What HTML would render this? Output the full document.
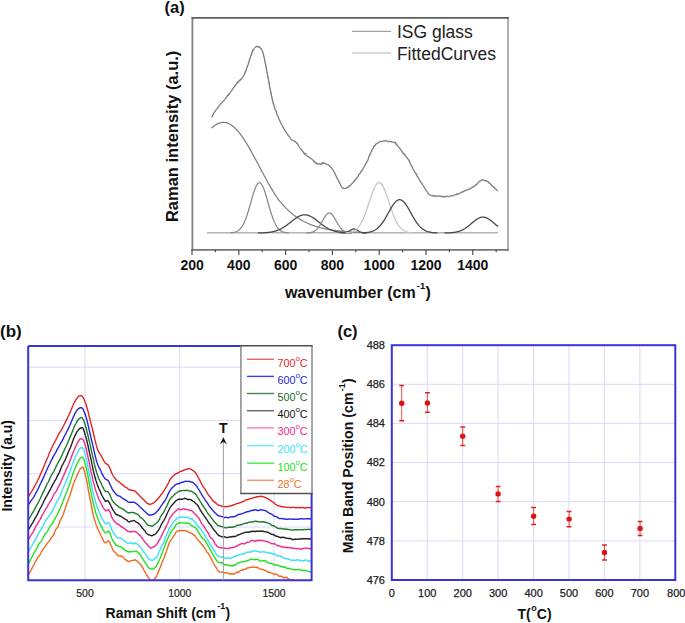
<!DOCTYPE html>
<html><head><meta charset="utf-8"><style>
html,body{margin:0;padding:0;background:#fff;}
body{width:685px;height:623px;overflow:hidden;}
svg{display:block;}
text{font-family:"Liberation Sans",sans-serif;}
</style></head><body>
<svg width="685" height="623" viewBox="0 0 685 623">
<rect width="685" height="623" fill="#fff"/>
<!-- ================= Panel (a) ================= -->
<text x="164.6" y="13.1" font-size="16.5" font-weight="bold" fill="#111">(a)</text>
<g fill="none" stroke-linecap="butt">
<path d="M207,232.8 L498.2,232.8" stroke="#b4b4b4" stroke-width="1.6"/>
<path d="M211.50,128.07 L212.00,127.62 L212.50,127.18 L213.00,126.77 L213.50,126.37 L214.00,125.99 L214.50,125.62 L215.00,125.28 L215.50,124.96 L216.00,124.65 L216.50,124.36 L217.00,124.09 L217.50,123.84 L218.00,123.62 L218.50,123.41 L219.00,123.21 L219.50,123.04 L220.00,122.89 L220.50,122.76 L221.00,122.65 L221.50,122.56 L222.00,122.49 L222.50,122.44 L223.00,122.41 L223.50,122.40 L224.00,122.41 L224.50,122.44 L225.00,122.50 L225.50,122.58 L226.00,122.67 L226.50,122.79 L227.00,122.94 L227.50,123.10 L228.00,123.29 L228.50,123.49 L229.00,123.72 L229.50,123.97 L230.00,124.24 L230.50,124.53 L231.00,124.84 L231.50,125.17 L232.00,125.53 L232.50,125.90 L233.00,126.29 L233.50,126.70 L234.00,127.13 L234.50,127.58 L235.00,128.05 L235.50,128.54 L236.00,129.05 L236.50,129.57 L237.00,130.11 L237.50,130.67 L238.00,131.25 L238.50,131.85 L239.00,132.46 L239.50,133.08 L240.00,133.72 L240.50,134.38 L241.00,135.05 L241.50,135.74 L242.00,136.44 L242.50,137.16 L243.00,137.89 L243.50,138.63 L244.00,139.39 L244.50,140.15 L245.00,140.93 L245.50,141.72 L246.00,142.53 L246.50,143.34 L247.00,144.16 L247.50,144.99 L248.00,145.84 L248.50,146.69 L249.00,147.55 L249.50,148.42 L250.00,149.29 L250.50,150.18 L251.00,151.07 L251.50,151.97 L252.00,152.87 L252.50,153.78 L253.00,154.69 L253.50,155.61 L254.00,156.53 L254.50,157.46 L255.00,158.39 L255.50,159.33 L256.00,160.26 L256.50,161.20 L257.00,162.14 L257.50,163.08 L258.00,164.03 L258.50,164.97 L259.00,165.92 L259.50,166.86 L260.00,167.81 L260.50,168.75 L261.00,169.69 L261.50,170.63 L262.00,171.57 L262.50,172.51 L263.00,173.45 L263.50,174.38 L264.00,175.31 L264.50,176.23 L265.00,177.15 L265.50,178.07 L266.00,178.98 L266.50,179.89 L267.00,180.80 L267.50,181.69 L268.00,182.59 L268.50,183.47 L269.00,184.35 L269.50,185.23 L270.00,186.10 L270.50,186.96 L271.00,187.82 L271.50,188.66 L272.00,189.50 L272.50,190.34 L273.00,191.16 L273.50,191.98 L274.00,192.79 L274.50,193.59 L275.00,194.38 L275.50,195.17 L276.00,195.95 L276.50,196.71 L277.00,197.47 L277.50,198.22 L278.00,198.96 L278.50,199.69 L279.00,200.31 L279.50,200.93 L280.00,201.53 L280.50,202.13 L281.00,202.72 L281.50,203.29 L282.00,203.87 L282.50,204.43 L283.00,204.98 L283.50,205.53 L284.00,206.07 L284.50,206.60 L285.00,207.12 L285.50,207.63 L286.00,208.14 L286.50,208.63 L287.00,209.12 L287.50,209.60 L288.00,210.08 L288.50,210.54 L289.00,211.00 L289.50,211.45 L290.00,211.90 L290.50,212.33 L291.00,212.76 L291.50,213.18 L292.00,213.60 L292.50,214.00 L293.00,214.40 L293.50,214.80 L294.00,215.18 L294.50,215.56 L295.00,215.93 L295.50,216.30 L296.00,216.65 L296.50,217.01 L297.00,217.35 L297.50,217.69 L298.00,218.02 L298.50,218.35 L299.00,218.67 L299.50,218.98 L300.00,219.29 L300.50,219.60 L301.00,219.89 L301.50,220.18 L302.00,220.47 L302.50,220.75 L303.00,221.02 L303.50,221.29 L304.00,221.55 L304.50,221.81 L305.00,222.06 L305.50,222.31 L306.00,222.56 L306.50,222.79 L307.00,223.03 L307.50,223.25 L308.00,223.48 L308.50,223.70 L309.00,223.91 L309.50,224.12 L310.00,224.33 L310.50,224.53 L311.00,224.73 L311.50,224.92 L312.00,225.11 L312.50,225.29 L313.00,225.47 L313.50,225.65 L314.00,225.82 L314.50,225.99 L315.00,226.16 L315.50,226.32 L316.00,226.48 L316.50,226.63 L317.00,226.79 L317.50,226.93 L318.00,227.08 L318.50,227.22 L319.00,227.36 L319.50,227.50 L320.00,227.63 L320.50,227.76 L321.00,227.88 L321.50,228.01 L322.00,228.13 L322.50,228.25 L323.00,228.36 L323.50,228.48 L324.00,228.59 L324.50,228.69 L325.00,228.80 L325.50,228.90 L326.00,229.00 L326.50,229.10 L327.00,229.20 L327.50,229.29 L328.00,229.38 L328.50,229.47 L329.00,229.56 L329.50,229.65 L330.00,229.73 L330.50,229.81 L331.00,229.89 L331.50,229.97 L332.00,230.04 L332.50,230.12 L333.00,230.19 L333.50,230.26 L334.00,230.33 L334.50,230.39 L335.00,230.46 L335.50,230.52 L336.00,230.59 L336.50,230.65 L337.00,230.71 L337.50,230.76 L338.00,230.82 L338.50,230.88 L339.00,230.93 L339.50,230.98 L340.00,231.03 L340.50,231.08 L341.00,231.13 L341.50,231.18 L342.00,231.23 L342.50,231.27 L343.00,231.32 L343.50,231.36 L344.00,231.40 L344.50,231.44 L345.00,231.48 L345.50,231.52 L346.00,231.56 L346.50,231.60 L347.00,231.63 L347.50,231.67 L348.00,231.70 L348.50,231.74 L349.00,231.77 L349.50,231.80 L350.00,231.83 L350.50,231.86 L351.00,231.89 L351.50,231.92 L352.00,231.95 L352.50,231.97 L353.00,232.00 L353.50,232.03 L354.00,232.05 L354.50,232.08 L355.00,232.10 L355.50,232.12 L356.00,232.15 L356.50,232.17 L357.00,232.19 L357.50,232.21 L358.00,232.23 L358.50,232.25 L359.00,232.27 L359.50,232.29 L360.00,232.31" stroke="#808080" stroke-width="1.25" fill="none"/>
<path d="M230.50,232.82 L231.00,232.78 L231.50,232.74 L232.00,232.69 L232.50,232.62 L233.00,232.55 L233.50,232.46 L234.00,232.36 L234.50,232.24 L235.00,232.10 L235.50,231.94 L236.00,231.76 L236.50,231.55 L237.00,231.31 L237.50,231.03 L238.00,230.72 L238.50,230.38 L239.00,229.98 L239.50,229.54 L240.00,229.05 L240.50,228.50 L241.00,227.90 L241.50,227.23 L242.00,226.50 L242.50,225.71 L243.00,224.84 L243.50,223.89 L244.00,222.88 L244.50,221.79 L245.00,220.62 L245.50,219.38 L246.00,218.06 L246.50,216.67 L247.00,215.21 L247.50,213.69 L248.00,212.11 L248.50,210.47 L249.00,208.79 L249.50,207.07 L250.00,205.32 L250.50,203.56 L251.00,201.78 L251.50,200.01 L252.00,198.26 L252.50,196.54 L253.00,194.87 L253.50,193.25 L254.00,191.70 L254.50,190.24 L255.00,188.87 L255.50,187.62 L256.00,186.48 L256.50,185.48 L257.00,184.62 L257.50,183.91 L258.00,183.36 L258.50,182.97 L259.00,182.75 L259.50,182.70 L260.00,182.82 L260.50,183.11 L261.00,183.56 L261.50,184.18 L262.00,184.95 L262.50,185.86 L263.00,186.92 L263.50,188.10 L264.00,189.40 L264.50,190.81 L265.00,192.31 L265.50,193.89 L266.00,195.53 L266.50,197.23 L267.00,198.96 L267.50,200.72 L268.00,202.49 L268.50,204.26 L269.00,206.02 L269.50,207.76 L270.00,209.47 L270.50,211.13 L271.00,212.75 L271.50,214.31 L272.00,215.80 L272.50,217.23 L273.00,218.59 L273.50,219.88 L274.00,221.10 L274.50,222.23 L275.00,223.29 L275.50,224.28 L276.00,225.19 L276.50,226.03 L277.00,226.80 L277.50,227.51 L278.00,228.15 L278.50,228.73 L279.00,229.25 L279.50,229.72 L280.00,230.14 L280.50,230.52 L281.00,230.85 L281.50,231.15 L282.00,231.41 L282.50,231.64 L283.00,231.83 L283.50,232.01 L284.00,232.16 L284.50,232.29 L285.00,232.40 L285.50,232.50 L286.00,232.58 L286.50,232.65 L287.00,232.71 L287.50,232.76 L288.00,232.80 L288.50,232.84" stroke="#8a8a8a" stroke-width="1.25" fill="none"/>
<path d="M258.00,232.94 L258.50,232.93 L259.00,232.92 L259.50,232.91 L260.00,232.90 L260.50,232.89 L261.00,232.87 L261.50,232.86 L262.00,232.84 L262.50,232.82 L263.00,232.80 L263.50,232.78 L264.00,232.75 L264.50,232.73 L265.00,232.70 L265.50,232.67 L266.00,232.63 L266.50,232.59 L267.00,232.55 L267.50,232.50 L268.00,232.45 L268.50,232.40 L269.00,232.34 L269.50,232.28 L270.00,232.21 L270.50,232.13 L271.00,232.05 L271.50,231.97 L272.00,231.88 L272.50,231.78 L273.00,231.67 L273.50,231.56 L274.00,231.44 L274.50,231.31 L275.00,231.17 L275.50,231.03 L276.00,230.87 L276.50,230.71 L277.00,230.54 L277.50,230.35 L278.00,230.16 L278.50,229.96 L279.00,229.75 L279.50,229.53 L280.00,229.29 L280.50,229.05 L281.00,228.80 L281.50,228.53 L282.00,228.26 L282.50,227.97 L283.00,227.68 L283.50,227.37 L284.00,227.06 L284.50,226.73 L285.00,226.40 L285.50,226.06 L286.00,225.71 L286.50,225.35 L287.00,224.98 L287.50,224.61 L288.00,224.23 L288.50,223.85 L289.00,223.46 L289.50,223.07 L290.00,222.67 L290.50,222.28 L291.00,221.88 L291.50,221.48 L292.00,221.09 L292.50,220.70 L293.00,220.31 L293.50,219.92 L294.00,219.54 L294.50,219.17 L295.00,218.81 L295.50,218.45 L296.00,218.11 L296.50,217.77 L297.00,217.45 L297.50,217.14 L298.00,216.85 L298.50,216.58 L299.00,216.32 L299.50,216.08 L300.00,215.85 L300.50,215.65 L301.00,215.47 L301.50,215.31 L302.00,215.17 L302.50,215.05 L303.00,214.95 L303.50,214.88 L304.00,214.83 L304.50,214.80 L305.00,214.80 L305.50,214.82 L306.00,214.87 L306.50,214.94 L307.00,215.03 L307.50,215.14 L308.00,215.28 L308.50,215.43 L309.00,215.61 L309.50,215.81 L310.00,216.03 L310.50,216.27 L311.00,216.52 L311.50,216.80 L312.00,217.08 L312.50,217.39 L313.00,217.71 L313.50,218.04 L314.00,218.38 L314.50,218.73 L315.00,219.10 L315.50,219.47 L316.00,219.85 L316.50,220.23 L317.00,220.62 L317.50,221.01 L318.00,221.41 L318.50,221.80 L319.00,222.20 L319.50,222.60 L320.00,222.99 L320.50,223.38 L321.00,223.77 L321.50,224.16 L322.00,224.54 L322.50,224.91 L323.00,225.28 L323.50,225.64 L324.00,225.99 L324.50,226.33 L325.00,226.67 L325.50,227.00 L326.00,227.31 L326.50,227.62 L327.00,227.92 L327.50,228.20 L328.00,228.48 L328.50,228.75 L329.00,229.00 L329.50,229.25 L330.00,229.48 L330.50,229.71 L331.00,229.92 L331.50,230.12 L332.00,230.32 L332.50,230.50 L333.00,230.68 L333.50,230.84 L334.00,231.00 L334.50,231.14 L335.00,231.28 L335.50,231.41 L336.00,231.53 L336.50,231.65 L337.00,231.76 L337.50,231.86 L338.00,231.95 L338.50,232.04 L339.00,232.12 L339.50,232.19 L340.00,232.26 L340.50,232.33 L341.00,232.39 L341.50,232.44 L342.00,232.49 L342.50,232.54 L343.00,232.58 L343.50,232.62 L344.00,232.66 L344.50,232.69 L345.00,232.72 L345.50,232.75 L346.00,232.77 L346.50,232.80 L347.00,232.82 L347.50,232.84 L348.00,232.85 L348.50,232.87 L349.00,232.88 L349.50,232.90 L350.00,232.91 L350.50,232.92 L351.00,232.93 L351.50,232.94 L352.00,232.94" stroke="#484848" stroke-width="1.3" fill="none"/>
<path d="M306.50,232.93 L307.00,232.91 L307.50,232.88 L308.00,232.85 L308.50,232.81 L309.00,232.77 L309.50,232.71 L310.00,232.64 L310.50,232.56 L311.00,232.46 L311.50,232.35 L312.00,232.21 L312.50,232.05 L313.00,231.87 L313.50,231.66 L314.00,231.41 L314.50,231.13 L315.00,230.81 L315.50,230.45 L316.00,230.05 L316.50,229.60 L317.00,229.10 L317.50,228.56 L318.00,227.97 L318.50,227.33 L319.00,226.65 L319.50,225.92 L320.00,225.15 L320.50,224.34 L321.00,223.50 L321.50,222.64 L322.00,221.76 L322.50,220.87 L323.00,219.98 L323.50,219.10 L324.00,218.24 L324.50,217.41 L325.00,216.62 L325.50,215.89 L326.00,215.22 L326.50,214.63 L327.00,214.11 L327.50,213.69 L328.00,213.36 L328.50,213.14 L329.00,213.02 L329.50,213.01 L330.00,213.11 L330.50,213.31 L331.00,213.62 L331.50,214.02 L332.00,214.52 L332.50,215.10 L333.00,215.75 L333.50,216.47 L334.00,217.25 L334.50,218.07 L335.00,218.92 L335.50,219.80 L336.00,220.69 L336.50,221.58 L337.00,222.47 L337.50,223.33 L338.00,224.18 L338.50,224.99 L339.00,225.77 L339.50,226.51 L340.00,227.20 L340.50,227.85 L341.00,228.45 L341.50,229.00 L342.00,229.50 L342.50,229.96 L343.00,230.37 L343.50,230.74 L344.00,231.07 L344.50,231.36 L345.00,231.61 L345.50,231.83 L346.00,232.02 L346.50,232.18 L347.00,232.32 L347.50,232.44 L348.00,232.54 L348.50,232.63 L349.00,232.70 L349.50,232.76 L350.00,232.81 L350.50,232.84 L351.00,232.88 L351.50,232.90 L352.00,232.92" stroke="#8a8a8a" stroke-width="1.25" fill="none"/>
<path d="M340.50,232.99 L341.00,232.98 L341.50,232.97 L342.00,232.95 L342.50,232.93 L343.00,232.90 L343.50,232.86 L344.00,232.81 L344.50,232.75 L345.00,232.66 L345.50,232.56 L346.00,232.43 L346.50,232.28 L347.00,232.10 L347.50,231.89 L348.00,231.65 L348.50,231.39 L349.00,231.11 L349.50,230.82 L350.00,230.51 L350.50,230.21 L351.00,229.92 L351.50,229.66 L352.00,229.43 L352.50,229.24 L353.00,229.10 L353.50,229.02 L354.00,229.00 L354.50,229.04 L355.00,229.15 L355.50,229.31 L356.00,229.51 L356.50,229.76 L357.00,230.04 L357.50,230.33 L358.00,230.63 L358.50,230.94 L359.00,231.23 L359.50,231.50 L360.00,231.75 L360.50,231.97 L361.00,232.17 L361.50,232.34 L362.00,232.49 L362.50,232.60 L363.00,232.70 L363.50,232.78 L364.00,232.83 L364.50,232.88 L365.00,232.91 L365.50,232.94 L366.00,232.96 L366.50,232.97 L367.00,232.98" stroke="#484848" stroke-width="1.3" fill="none"/>
<path d="M345.50,232.82 L346.00,232.79 L346.50,232.75 L347.00,232.71 L347.50,232.66 L348.00,232.60 L348.50,232.53 L349.00,232.46 L349.50,232.37 L350.00,232.27 L350.50,232.16 L351.00,232.03 L351.50,231.88 L352.00,231.72 L352.50,231.53 L353.00,231.33 L353.50,231.10 L354.00,230.84 L354.50,230.55 L355.00,230.24 L355.50,229.89 L356.00,229.50 L356.50,229.08 L357.00,228.62 L357.50,228.11 L358.00,227.56 L358.50,226.96 L359.00,226.31 L359.50,225.62 L360.00,224.87 L360.50,224.06 L361.00,223.20 L361.50,222.29 L362.00,221.32 L362.50,220.29 L363.00,219.21 L363.50,218.07 L364.00,216.88 L364.50,215.64 L365.00,214.35 L365.50,213.01 L366.00,211.63 L366.50,210.21 L367.00,208.76 L367.50,207.28 L368.00,205.78 L368.50,204.26 L369.00,202.74 L369.50,201.21 L370.00,199.69 L370.50,198.18 L371.00,196.70 L371.50,195.24 L372.00,193.83 L372.50,192.46 L373.00,191.16 L373.50,189.91 L374.00,188.75 L374.50,187.66 L375.00,186.66 L375.50,185.76 L376.00,184.96 L376.50,184.28 L377.00,183.70 L377.50,183.24 L378.00,182.90 L378.50,182.69 L379.00,182.60 L379.50,182.64 L380.00,182.80 L380.50,183.09 L381.00,183.50 L381.50,184.03 L382.00,184.68 L382.50,185.43 L383.00,186.29 L383.50,187.25 L384.00,188.30 L384.50,189.44 L385.00,190.65 L385.50,191.93 L386.00,193.28 L386.50,194.67 L387.00,196.11 L387.50,197.58 L388.00,199.08 L388.50,200.60 L389.00,202.13 L389.50,203.65 L390.00,205.17 L390.50,206.68 L391.00,208.17 L391.50,209.64 L392.00,211.07 L392.50,212.46 L393.00,213.82 L393.50,215.13 L394.00,216.39 L394.50,217.60 L395.00,218.76 L395.50,219.87 L396.00,220.92 L396.50,221.91 L397.00,222.85 L397.50,223.73 L398.00,224.55 L398.50,225.32 L399.00,226.04 L399.50,226.71 L400.00,227.33 L400.50,227.90 L401.00,228.42 L401.50,228.90 L402.00,229.34 L402.50,229.74 L403.00,230.10 L403.50,230.43 L404.00,230.73 L404.50,231.00 L405.00,231.24 L405.50,231.45 L406.00,231.65 L406.50,231.82 L407.00,231.97 L407.50,232.11 L408.00,232.23 L408.50,232.33 L409.00,232.42 L409.50,232.50 L410.00,232.57 L410.50,232.64 L411.00,232.69 L411.50,232.74 L412.00,232.78 L412.50,232.81 L413.00,232.84" stroke="#c4c4c4" stroke-width="1.25" fill="none"/>
<path d="M362.00,232.88 L362.50,232.86 L363.00,232.84 L363.50,232.82 L364.00,232.79 L364.50,232.75 L365.00,232.72 L365.50,232.68 L366.00,232.63 L366.50,232.58 L367.00,232.52 L367.50,232.45 L368.00,232.38 L368.50,232.30 L369.00,232.20 L369.50,232.10 L370.00,231.99 L370.50,231.86 L371.00,231.72 L371.50,231.57 L372.00,231.40 L372.50,231.22 L373.00,231.02 L373.50,230.80 L374.00,230.56 L374.50,230.30 L375.00,230.02 L375.50,229.71 L376.00,229.38 L376.50,229.03 L377.00,228.65 L377.50,228.25 L378.00,227.81 L378.50,227.35 L379.00,226.86 L379.50,226.35 L380.00,225.80 L380.50,225.22 L381.00,224.61 L381.50,223.98 L382.00,223.31 L382.50,222.62 L383.00,221.90 L383.50,221.15 L384.00,220.38 L384.50,219.58 L385.00,218.76 L385.50,217.92 L386.00,217.07 L386.50,216.20 L387.00,215.31 L387.50,214.42 L388.00,213.52 L388.50,212.62 L389.00,211.72 L389.50,210.83 L390.00,209.94 L390.50,209.06 L391.00,208.20 L391.50,207.36 L392.00,206.55 L392.50,205.76 L393.00,205.01 L393.50,204.29 L394.00,203.61 L394.50,202.98 L395.00,202.39 L395.50,201.86 L396.00,201.38 L396.50,200.95 L397.00,200.59 L397.50,200.28 L398.00,200.04 L398.50,199.86 L399.00,199.75 L399.50,199.70 L400.00,199.72 L400.50,199.81 L401.00,199.96 L401.50,200.18 L402.00,200.46 L402.50,200.80 L403.00,201.20 L403.50,201.66 L404.00,202.17 L404.50,202.74 L405.00,203.35 L405.50,204.01 L406.00,204.72 L406.50,205.46 L407.00,206.23 L407.50,207.03 L408.00,207.86 L408.50,208.72 L409.00,209.59 L409.50,210.47 L410.00,211.36 L410.50,212.26 L411.00,213.16 L411.50,214.06 L412.00,214.96 L412.50,215.85 L413.00,216.72 L413.50,217.58 L414.00,218.43 L414.50,219.26 L415.00,220.06 L415.50,220.84 L416.00,221.60 L416.50,222.33 L417.00,223.04 L417.50,223.71 L418.00,224.36 L418.50,224.98 L419.00,225.57 L419.50,226.13 L420.00,226.66 L420.50,227.16 L421.00,227.63 L421.50,228.08 L422.00,228.49 L422.50,228.88 L423.00,229.25 L423.50,229.58 L424.00,229.90 L424.50,230.19 L425.00,230.46 L425.50,230.70 L426.00,230.93 L426.50,231.14 L427.00,231.33 L427.50,231.50 L428.00,231.66 L428.50,231.81 L429.00,231.94 L429.50,232.06 L430.00,232.16 L430.50,232.26 L431.00,232.35 L431.50,232.42 L432.00,232.49 L432.50,232.55 L433.00,232.61 L433.50,232.66 L434.00,232.70 L434.50,232.74 L435.00,232.77 L435.50,232.80 L436.00,232.83 L436.50,232.85 L437.00,232.87 L437.50,232.89" stroke="#484848" stroke-width="1.3" fill="none"/>
<path d="M444.50,232.95 L445.00,232.94 L445.50,232.93 L446.00,232.92 L446.50,232.91 L447.00,232.90 L447.50,232.88 L448.00,232.87 L448.50,232.85 L449.00,232.82 L449.50,232.80 L450.00,232.77 L450.50,232.74 L451.00,232.70 L451.50,232.67 L452.00,232.62 L452.50,232.57 L453.00,232.52 L453.50,232.46 L454.00,232.40 L454.50,232.32 L455.00,232.25 L455.50,232.16 L456.00,232.06 L456.50,231.96 L457.00,231.85 L457.50,231.73 L458.00,231.60 L458.50,231.45 L459.00,231.30 L459.50,231.14 L460.00,230.96 L460.50,230.77 L461.00,230.57 L461.50,230.35 L462.00,230.13 L462.50,229.88 L463.00,229.63 L463.50,229.36 L464.00,229.07 L464.50,228.78 L465.00,228.47 L465.50,228.14 L466.00,227.80 L466.50,227.45 L467.00,227.09 L467.50,226.72 L468.00,226.33 L468.50,225.94 L469.00,225.54 L469.50,225.13 L470.00,224.71 L470.50,224.29 L471.00,223.87 L471.50,223.44 L472.00,223.01 L472.50,222.59 L473.00,222.17 L473.50,221.75 L474.00,221.34 L474.50,220.94 L475.00,220.55 L475.50,220.17 L476.00,219.80 L476.50,219.46 L477.00,219.13 L477.50,218.82 L478.00,218.53 L478.50,218.26 L479.00,218.02 L479.50,217.80 L480.00,217.62 L480.50,217.45 L481.00,217.32 L481.50,217.22 L482.00,217.15 L482.50,217.11 L483.00,217.10 L483.50,217.12 L484.00,217.18 L484.50,217.26 L485.00,217.37 L485.50,217.52 L486.00,217.69 L486.50,217.89 L487.00,218.11 L487.50,218.36 L488.00,218.64 L488.50,218.94 L489.00,219.26 L489.50,219.59 L490.00,219.95 L490.50,220.32 L491.00,220.70 L491.50,221.10 L492.00,221.50 L492.50,221.92 L493.00,222.34 L493.50,222.76 L494.00,223.19 L494.50,223.61 L495.00,224.04 L495.50,224.46 L496.00,224.88 L496.50,225.29 L497.00,225.70 L497.50,226.10 L498.00,226.49" stroke="#484848" stroke-width="1.3" fill="none"/>
<path d="M211.70,117.40 L212.20,116.37 L212.70,115.29 L213.20,114.24 L213.70,113.24 L214.20,112.36 L214.70,111.60 L215.20,110.90 L215.70,110.24 L216.20,109.61 L216.70,109.01 L217.20,108.42 L217.70,107.84 L218.20,107.24 L218.70,106.63 L219.20,106.03 L219.70,105.43 L220.20,104.84 L220.70,104.25 L221.20,103.66 L221.70,103.07 L222.20,102.48 L222.70,101.89 L223.20,101.30 L223.70,100.70 L224.20,100.10 L224.70,99.51 L225.20,98.92 L225.70,98.33 L226.20,97.74 L226.70,97.14 L227.20,96.54 L227.70,95.92 L228.20,95.30 L228.70,94.66 L229.20,94.00 L229.70,93.32 L230.20,92.63 L230.70,91.92 L231.20,91.20 L231.70,90.48 L232.20,89.75 L232.70,89.04 L233.20,88.33 L233.70,87.64 L234.20,86.97 L234.70,86.31 L235.20,85.66 L235.70,85.02 L236.20,84.40 L236.70,83.78 L237.20,83.18 L237.70,82.59 L238.20,82.01 L238.70,81.47 L239.20,80.97 L239.70,80.50 L240.20,80.05 L240.70,79.58 L241.20,79.09 L241.70,78.56 L242.20,77.96 L242.70,77.28 L243.20,76.50 L243.70,75.63 L244.20,74.66 L244.70,73.59 L245.20,72.42 L245.70,71.15 L246.20,69.79 L246.70,68.37 L247.20,66.92 L247.70,65.46 L248.20,64.00 L248.70,62.51 L249.20,60.94 L249.70,59.36 L250.20,57.80 L250.70,56.30 L251.20,54.91 L251.70,53.66 L252.20,52.46 L252.70,51.34 L253.20,50.30 L253.70,49.36 L254.20,48.55 L254.70,47.88 L255.20,47.35 L255.70,46.94 L256.20,46.65 L256.70,46.47 L257.20,46.38 L257.70,46.39 L258.20,46.48 L258.70,46.66 L259.20,46.94 L259.70,47.32 L260.20,47.80 L260.70,48.39 L261.20,49.10 L261.70,49.95 L262.20,50.98 L262.70,52.23 L263.20,53.72 L263.70,55.52 L264.20,57.66 L264.70,60.03 L265.20,62.55 L265.70,65.10 L266.20,67.65 L266.70,70.32 L267.20,73.05 L267.70,75.79 L268.20,78.50 L268.70,81.20 L269.20,83.92 L269.70,86.62 L270.20,89.26 L270.70,91.80 L271.20,94.32 L271.70,96.80 L272.20,99.16 L272.70,101.33 L273.20,103.23 L273.70,104.94 L274.20,106.52 L274.70,107.99 L275.20,109.39 L275.70,110.75 L276.20,112.10 L276.70,113.43 L277.20,114.71 L277.70,115.95 L278.20,117.15 L278.70,118.31 L279.20,119.44 L279.70,120.54 L280.20,121.62 L280.70,122.68 L281.20,123.72 L281.70,124.73 L282.20,125.71 L282.70,126.66 L283.20,127.57 L283.70,128.44 L284.20,129.28 L284.70,130.09 L285.20,130.88 L285.70,131.64 L286.20,132.39 L286.70,133.12 L287.20,133.84 L287.70,134.55 L288.20,135.26 L288.70,135.97 L289.20,136.68 L289.70,137.38 L290.20,138.05 L290.70,138.66 L291.20,139.21 L291.70,139.69 L292.20,140.08 L292.70,140.40 L293.20,140.68 L293.70,140.93 L294.20,141.17 L294.70,141.43 L295.20,141.71 L295.70,142.03 L296.20,142.43 L296.70,142.90 L297.20,143.53 L297.70,144.27 L298.20,145.10 L298.70,145.97 L299.20,146.82 L299.70,147.61 L300.20,148.30 L300.70,148.92 L301.20,149.52 L301.70,150.12 L302.20,150.71 L302.70,151.29 L303.20,151.86 L303.70,152.42 L304.20,152.97 L304.70,153.50 L305.20,154.03 L305.70,154.54 L306.20,155.05 L306.70,155.54 L307.20,156.01 L307.70,156.47 L308.20,156.86 L308.70,157.20 L309.20,157.50 L309.70,157.78 L310.20,158.06 L310.70,158.35 L311.20,158.66 L311.70,159.02 L312.20,159.44 L312.70,159.91 L313.20,160.42 L313.70,160.94 L314.20,161.47 L314.70,161.97 L315.20,162.43 L315.70,162.83 L316.20,163.16 L316.70,163.42 L317.20,163.64 L317.70,163.82 L318.20,163.96 L318.70,164.07 L319.20,164.14 L319.70,164.19 L320.20,164.20 L320.70,164.16 L321.20,163.94 L321.70,163.64 L322.20,163.32 L322.70,163.07 L323.20,162.99 L323.70,163.07 L324.20,163.18 L324.70,163.32 L325.20,163.48 L325.70,163.66 L326.20,163.87 L326.70,164.11 L327.20,164.37 L327.70,164.65 L328.20,164.97 L328.70,165.31 L329.20,165.68 L329.70,166.09 L330.20,166.54 L330.70,167.05 L331.20,167.60 L331.70,168.20 L332.20,168.85 L332.70,169.54 L333.20,170.29 L333.70,171.09 L334.20,171.98 L334.70,172.94 L335.20,173.96 L335.70,175.01 L336.20,176.07 L336.70,177.12 L337.20,178.14 L337.70,179.11 L338.20,180.06 L338.70,181.06 L339.20,182.08 L339.70,183.11 L340.20,184.12 L340.70,185.07 L341.20,185.96 L341.70,186.74 L342.20,187.40 L342.70,187.92 L343.20,188.27 L343.70,188.49 L344.20,188.58 L344.70,188.58 L345.20,188.49 L345.70,188.34 L346.20,188.13 L346.70,187.90 L347.20,187.65 L347.70,187.40 L348.20,187.15 L348.70,186.84 L349.20,186.48 L349.70,186.07 L350.20,185.62 L350.70,185.15 L351.20,184.64 L351.70,184.12 L352.20,183.60 L352.70,183.05 L353.20,182.45 L353.70,181.82 L354.20,181.16 L354.70,180.49 L355.20,179.81 L355.70,179.13 L356.20,178.47 L356.70,177.81 L357.20,177.16 L357.70,176.51 L358.20,175.86 L358.70,175.20 L359.20,174.53 L359.70,173.85 L360.20,173.15 L360.70,172.43 L361.20,171.68 L361.70,170.90 L362.20,170.09 L362.70,169.27 L363.20,168.42 L363.70,167.56 L364.20,166.68 L364.70,165.77 L365.20,164.85 L365.70,163.92 L366.20,162.96 L366.70,161.99 L367.20,161.00 L367.70,159.99 L368.20,158.86 L368.70,157.65 L369.20,156.39 L369.70,155.13 L370.20,153.92 L370.70,152.81 L371.20,151.82 L371.70,150.86 L372.20,149.92 L372.70,149.01 L373.20,148.13 L373.70,147.30 L374.20,146.52 L374.70,145.81 L375.20,145.16 L375.70,144.60 L376.20,144.11 L376.70,143.67 L377.20,143.28 L377.70,142.93 L378.20,142.62 L378.70,142.35 L379.20,142.11 L379.70,141.90 L380.20,141.71 L380.70,141.54 L381.20,141.39 L381.70,141.25 L382.20,141.14 L382.70,141.06 L383.20,141.02 L383.70,141.00 L384.20,141.00 L384.70,141.02 L385.20,141.06 L385.70,141.11 L386.20,141.16 L386.70,141.22 L387.20,141.28 L387.70,141.33 L388.20,141.38 L388.70,141.43 L389.20,141.47 L389.70,141.52 L390.20,141.57 L390.70,141.63 L391.20,141.69 L391.70,141.77 L392.20,141.87 L392.70,141.98 L393.20,142.11 L393.70,142.27 L394.20,142.45 L394.70,142.66 L395.20,142.91 L395.70,143.34 L396.20,143.91 L396.70,144.57 L397.20,145.28 L397.70,145.98 L398.20,146.62 L398.70,147.23 L399.20,147.84 L399.70,148.45 L400.20,149.06 L400.70,149.68 L401.20,150.30 L401.70,150.93 L402.20,151.57 L402.70,152.22 L403.20,152.90 L403.70,153.58 L404.20,154.27 L404.70,154.96 L405.20,155.63 L405.70,156.28 L406.20,156.89 L406.70,157.47 L407.20,158.06 L407.70,158.68 L408.20,159.38 L408.70,160.17 L409.20,161.09 L409.70,162.10 L410.20,163.18 L410.70,164.26 L411.20,165.32 L411.70,166.30 L412.20,167.22 L412.70,168.11 L413.20,168.98 L413.70,169.84 L414.20,170.70 L414.70,171.54 L415.20,172.40 L415.70,173.25 L416.20,174.12 L416.70,175.00 L417.20,175.89 L417.70,176.77 L418.20,177.65 L418.70,178.53 L419.20,179.39 L419.70,180.24 L420.20,181.06 L420.70,181.87 L421.20,182.65 L421.70,183.43 L422.20,184.19 L422.70,184.94 L423.20,185.69 L423.70,186.44 L424.20,187.20 L424.70,187.98 L425.20,188.78 L425.70,189.59 L426.20,190.39 L426.70,191.18 L427.20,191.93 L427.70,192.63 L428.20,193.27 L428.70,193.82 L429.20,194.28 L429.70,194.66 L430.20,194.96 L430.70,195.21 L431.20,195.40 L431.70,195.56 L432.20,195.68 L432.70,195.78 L433.20,195.85 L433.70,195.91 L434.20,195.95 L434.70,195.98 L435.20,196.00 L435.70,196.02 L436.20,196.05 L436.70,196.09 L437.20,196.13 L437.70,196.17 L438.20,196.20 L438.70,196.23 L439.20,196.26 L439.70,196.28 L440.20,196.31 L440.70,196.35 L441.20,196.38 L441.70,196.43 L442.20,196.47 L442.70,196.51 L443.20,196.54 L443.70,196.57 L444.20,196.60 L444.70,196.61 L445.20,196.61 L445.70,196.60 L446.20,196.58 L446.70,196.55 L447.20,196.52 L447.70,196.48 L448.20,196.44 L448.70,196.39 L449.20,196.34 L449.70,196.27 L450.20,196.20 L450.70,196.12 L451.20,196.03 L451.70,195.93 L452.20,195.82 L452.70,195.70 L453.20,195.57 L453.70,195.43 L454.20,195.27 L454.70,195.11 L455.20,194.94 L455.70,194.76 L456.20,194.58 L456.70,194.39 L457.20,194.20 L457.70,194.01 L458.20,193.81 L458.70,193.62 L459.20,193.42 L459.70,193.22 L460.20,193.01 L460.70,192.80 L461.20,192.58 L461.70,192.35 L462.20,192.13 L462.70,191.90 L463.20,191.67 L463.70,191.45 L464.20,191.22 L464.70,190.99 L465.20,190.77 L465.70,190.56 L466.20,190.35 L466.70,190.15 L467.20,189.96 L467.70,189.77 L468.20,189.58 L468.70,189.38 L469.20,189.18 L469.70,188.97 L470.20,188.75 L470.70,188.51 L471.20,188.25 L471.70,187.98 L472.20,187.69 L472.70,187.38 L473.20,187.06 L473.70,186.73 L474.20,186.37 L474.70,186.01 L475.20,185.63 L475.70,185.23 L476.20,184.81 L476.70,184.34 L477.20,183.80 L477.70,183.23 L478.20,182.66 L478.70,182.10 L479.20,181.60 L479.70,181.17 L480.20,180.84 L480.70,180.59 L481.20,180.41 L481.70,180.29 L482.20,180.22 L482.70,180.20 L483.20,180.22 L483.70,180.27 L484.20,180.36 L484.70,180.47 L485.20,180.62 L485.70,180.79 L486.20,180.98 L486.70,181.19 L487.20,181.45 L487.70,181.76 L488.20,182.11 L488.70,182.50 L489.20,182.91 L489.70,183.36 L490.20,183.84 L490.70,184.34 L491.20,184.86 L491.70,185.39 L492.20,185.91 L492.70,186.41 L493.20,186.89 L493.70,187.36 L494.20,187.82 L494.70,188.27 L495.20,188.71 L495.70,189.15 L496.20,189.59 L496.70,190.04 L497.20,190.48 L497.70,190.92" stroke="#b4b4b4" stroke-width="1.4"/>
<path d="M211.70,117.44 L212.20,116.93 L212.70,114.87 L213.20,114.68 L213.70,113.12 L214.20,112.24 L214.70,112.45 L215.20,110.97 L215.70,110.22 L216.20,109.94 L216.70,109.52 L217.20,108.41 L217.70,108.10 L218.20,106.80 L218.70,106.47 L219.20,105.83 L219.70,104.83 L220.20,104.16 L220.70,103.51 L221.20,103.55 L221.70,102.99 L222.20,102.34 L222.70,101.92 L223.20,100.70 L223.70,100.66 L224.20,100.21 L224.70,99.85 L225.20,98.54 L225.70,98.15 L226.20,96.83 L226.70,96.92 L227.20,95.55 L227.70,95.29 L228.20,95.80 L228.70,93.67 L229.20,94.36 L229.70,93.47 L230.20,92.49 L230.70,92.12 L231.20,91.44 L231.70,90.95 L232.20,89.65 L232.70,88.77 L233.20,88.06 L233.70,87.20 L234.20,86.95 L234.70,85.96 L235.20,86.14 L235.70,84.18 L236.20,83.90 L236.70,83.35 L237.20,82.24 L237.70,83.45 L238.20,80.93 L238.70,81.34 L239.20,80.73 L239.70,81.25 L240.20,79.15 L240.70,80.06 L241.20,78.76 L241.70,78.49 L242.20,77.66 L242.70,77.57 L243.20,75.99 L243.70,75.60 L244.20,74.82 L244.70,74.42 L245.20,71.34 L245.70,71.83 L246.20,70.22 L246.70,68.16 L247.20,67.06 L247.70,65.25 L248.20,64.74 L248.70,62.60 L249.20,60.85 L249.70,59.26 L250.20,57.71 L250.70,56.22 L251.20,54.52 L251.70,54.58 L252.20,51.60 L252.70,49.71 L253.20,50.24 L253.70,49.29 L254.20,48.72 L254.70,47.79 L255.20,47.28 L255.70,47.09 L256.20,47.09 L256.70,46.27 L257.20,46.22 L257.70,47.26 L258.20,46.72 L258.70,46.22 L259.20,47.99 L259.70,47.67 L260.20,47.54 L260.70,47.86 L261.20,49.23 L261.70,49.57 L262.20,50.50 L262.70,51.64 L263.20,53.50 L263.70,56.02 L264.20,57.46 L264.70,59.38 L265.20,62.85 L265.70,65.13 L266.20,68.03 L266.70,70.86 L267.20,72.97 L267.70,75.72 L268.20,78.48 L268.70,80.69 L269.20,84.22 L269.70,87.24 L270.20,89.34 L270.70,91.69 L271.20,94.20 L271.70,96.45 L272.20,98.80 L272.70,101.15 L273.20,102.85 L273.70,104.74 L274.20,105.81 L274.70,108.15 L275.20,109.41 L275.70,110.23 L276.20,111.07 L276.70,113.43 L277.20,115.21 L277.70,115.62 L278.20,116.93 L278.70,118.05 L279.20,119.73 L279.70,120.12 L280.20,122.06 L280.70,122.54 L281.20,124.13 L281.70,124.74 L282.20,125.61 L282.70,125.99 L283.20,127.26 L283.70,128.33 L284.20,129.58 L284.70,130.20 L285.20,130.57 L285.70,131.83 L286.20,132.83 L286.70,133.05 L287.20,133.64 L287.70,134.37 L288.20,135.62 L288.70,136.21 L289.20,136.27 L289.70,137.55 L290.20,137.83 L290.70,138.32 L291.20,139.77 L291.70,140.06 L292.20,139.75 L292.70,140.44 L293.20,140.91 L293.70,140.64 L294.20,141.12 L294.70,141.73 L295.20,140.90 L295.70,142.18 L296.20,142.76 L296.70,143.13 L297.20,142.92 L297.70,144.42 L298.20,144.71 L298.70,146.22 L299.20,147.09 L299.70,147.71 L300.20,147.96 L300.70,148.65 L301.20,149.91 L301.70,149.72 L302.20,150.93 L302.70,151.52 L303.20,151.73 L303.70,153.50 L304.20,153.00 L304.70,154.47 L305.20,153.12 L305.70,153.53 L306.20,155.49 L306.70,155.82 L307.20,155.87 L307.70,156.44 L308.20,156.00 L308.70,156.91 L309.20,157.03 L309.70,157.68 L310.20,158.46 L310.70,158.37 L311.20,158.83 L311.70,158.71 L312.20,159.24 L312.70,159.96 L313.20,160.29 L313.70,161.51 L314.20,161.07 L314.70,162.82 L315.20,161.99 L315.70,163.31 L316.20,162.81 L316.70,164.16 L317.20,163.70 L317.70,164.00 L318.20,164.30 L318.70,163.78 L319.20,163.67 L319.70,163.27 L320.20,164.75 L320.70,163.84 L321.20,163.68 L321.70,163.62 L322.20,164.21 L322.70,162.29 L323.20,163.10 L323.70,162.89 L324.20,163.42 L324.70,162.51 L325.20,163.30 L325.70,164.04 L326.20,164.57 L326.70,164.82 L327.20,163.98 L327.70,164.68 L328.20,164.92 L328.70,164.69 L329.20,165.03 L329.70,166.43 L330.20,166.65 L330.70,166.98 L331.20,168.15 L331.70,167.75 L332.20,169.09 L332.70,169.55 L333.20,170.26 L333.70,171.31 L334.20,172.06 L334.70,173.06 L335.20,174.08 L335.70,175.88 L336.20,175.93 L336.70,177.58 L337.20,178.42 L337.70,178.96 L338.20,180.42 L338.70,180.67 L339.20,182.61 L339.70,182.75 L340.20,183.90 L340.70,185.22 L341.20,186.33 L341.70,187.15 L342.20,187.81 L342.70,187.82 L343.20,187.84 L343.70,188.73 L344.20,188.72 L344.70,188.15 L345.20,188.93 L345.70,188.43 L346.20,187.70 L346.70,188.10 L347.20,187.05 L347.70,187.00 L348.20,187.33 L348.70,186.14 L349.20,186.50 L349.70,185.47 L350.20,185.96 L350.70,184.82 L351.20,184.72 L351.70,183.45 L352.20,183.45 L352.70,183.48 L353.20,182.66 L353.70,180.99 L354.20,181.58 L354.70,180.89 L355.20,179.64 L355.70,179.77 L356.20,177.99 L356.70,177.77 L357.20,177.66 L357.70,177.10 L358.20,176.44 L358.70,174.71 L359.20,173.73 L359.70,174.03 L360.20,172.51 L360.70,172.37 L361.20,171.10 L361.70,171.38 L362.20,170.46 L362.70,169.52 L363.20,168.43 L363.70,167.58 L364.20,166.54 L364.70,165.95 L365.20,164.97 L365.70,164.12 L366.20,162.77 L366.70,162.84 L367.20,161.13 L367.70,160.61 L368.20,159.46 L368.70,157.25 L369.20,155.63 L369.70,155.70 L370.20,153.75 L370.70,152.84 L371.20,151.70 L371.70,150.92 L372.20,149.39 L372.70,148.96 L373.20,147.92 L373.70,147.29 L374.20,145.47 L374.70,146.18 L375.20,145.31 L375.70,143.82 L376.20,143.78 L376.70,143.68 L377.20,143.56 L377.70,142.93 L378.20,143.24 L378.70,142.36 L379.20,141.66 L379.70,141.59 L380.20,142.04 L380.70,141.26 L381.20,141.76 L381.70,141.71 L382.20,141.40 L382.70,141.52 L383.20,140.94 L383.70,140.99 L384.20,140.74 L384.70,140.75 L385.20,140.35 L385.70,140.86 L386.20,140.68 L386.70,140.58 L387.20,141.34 L387.70,141.54 L388.20,141.23 L388.70,142.04 L389.20,141.89 L389.70,141.99 L390.20,141.30 L390.70,140.95 L391.20,141.94 L391.70,141.91 L392.20,142.20 L392.70,142.17 L393.20,142.68 L393.70,142.14 L394.20,142.75 L394.70,142.26 L395.20,141.88 L395.70,143.14 L396.20,144.58 L396.70,143.82 L397.20,145.74 L397.70,145.68 L398.20,146.44 L398.70,147.25 L399.20,147.94 L399.70,148.01 L400.20,149.12 L400.70,149.88 L401.20,150.68 L401.70,150.59 L402.20,152.27 L402.70,153.08 L403.20,153.98 L403.70,152.98 L404.20,154.35 L404.70,154.12 L405.20,155.80 L405.70,156.53 L406.20,156.37 L406.70,156.75 L407.20,158.14 L407.70,158.96 L408.20,159.02 L408.70,160.05 L409.20,159.95 L409.70,161.79 L410.20,163.24 L410.70,164.33 L411.20,166.03 L411.70,165.79 L412.20,166.20 L412.70,168.31 L413.20,168.72 L413.70,169.97 L414.20,171.02 L414.70,171.82 L415.20,173.04 L415.70,173.86 L416.20,173.37 L416.70,174.97 L417.20,176.79 L417.70,176.59 L418.20,178.09 L418.70,178.50 L419.20,179.20 L419.70,180.95 L420.20,181.53 L420.70,181.76 L421.20,183.06 L421.70,182.84 L422.20,183.86 L422.70,185.35 L423.20,185.71 L423.70,185.97 L424.20,187.40 L424.70,188.12 L425.20,189.35 L425.70,190.02 L426.20,190.27 L426.70,190.96 L427.20,191.86 L427.70,192.53 L428.20,193.92 L428.70,194.54 L429.20,194.89 L429.70,194.83 L430.20,194.85 L430.70,195.61 L431.20,195.24 L431.70,195.67 L432.20,194.93 L432.70,195.59 L433.20,196.50 L433.70,195.45 L434.20,195.27 L434.70,195.90 L435.20,196.75 L435.70,196.68 L436.20,195.89 L436.70,195.88 L437.20,196.09 L437.70,195.75 L438.20,196.22 L438.70,196.10 L439.20,195.59 L439.70,196.02 L440.20,196.20 L440.70,195.96 L441.20,195.88 L441.70,196.83 L442.20,197.32 L442.70,196.38 L443.20,196.35 L443.70,196.80 L444.20,196.49 L444.70,196.26 L445.20,197.24 L445.70,196.13 L446.20,196.25 L446.70,196.25 L447.20,196.12 L447.70,196.38 L448.20,196.70 L448.70,197.04 L449.20,196.63 L449.70,196.29 L450.20,195.64 L450.70,196.09 L451.20,195.61 L451.70,195.89 L452.20,196.26 L452.70,195.79 L453.20,195.48 L453.70,195.09 L454.20,195.26 L454.70,195.16 L455.20,194.52 L455.70,194.54 L456.20,194.98 L456.70,193.65 L457.20,194.00 L457.70,193.48 L458.20,194.51 L458.70,193.89 L459.20,193.65 L459.70,193.40 L460.20,193.14 L460.70,192.93 L461.20,191.86 L461.70,192.47 L462.20,192.40 L462.70,191.26 L463.20,192.04 L463.70,191.75 L464.20,190.53 L464.70,190.78 L465.20,190.64 L465.70,190.32 L466.20,190.53 L466.70,189.58 L467.20,189.86 L467.70,189.87 L468.20,189.90 L468.70,189.40 L469.20,189.07 L469.70,189.28 L470.20,187.85 L470.70,188.93 L471.20,188.12 L471.70,187.42 L472.20,187.49 L472.70,186.56 L473.20,186.14 L473.70,186.58 L474.20,186.02 L474.70,186.34 L475.20,185.23 L475.70,184.65 L476.20,184.38 L476.70,185.11 L477.20,183.81 L477.70,182.96 L478.20,182.21 L478.70,181.61 L479.20,181.53 L479.70,181.37 L480.20,181.36 L480.70,181.10 L481.20,180.53 L481.70,179.99 L482.20,179.83 L482.70,179.16 L483.20,179.76 L483.70,180.46 L484.20,180.21 L484.70,180.64 L485.20,180.01 L485.70,181.19 L486.20,181.11 L486.70,181.21 L487.20,181.63 L487.70,180.75 L488.20,181.86 L488.70,182.10 L489.20,183.73 L489.70,183.28 L490.20,183.61 L490.70,184.73 L491.20,184.39 L491.70,186.03 L492.20,185.59 L492.70,186.39 L493.20,186.48 L493.70,187.72 L494.20,186.84 L494.70,188.58 L495.20,188.34 L495.70,189.18 L496.20,189.08 L496.70,190.14 L497.20,190.56 L497.70,191.19" stroke="#747474" stroke-width="1.0"/>
</g>
<path d="M192.4,17V250.8" fill="none" stroke="#808080" stroke-width="1.8"/>
<path d="M508,17V250.8" fill="none" stroke="#a8a8a8" stroke-width="1.8"/>
<path d="M191.5,17.8H508.9" fill="none" stroke="#5e5e5e" stroke-width="1.8"/>
<path d="M191.5,249.9H508.9" fill="none" stroke="#767676" stroke-width="1.8"/>
<g stroke="#505050" stroke-width="1.2">
<path d="M192,249.5V255 M238.8,249.5V255 M285.6,249.5V255 M332.4,249.5V255 M379.2,249.5V255 M426,249.5V255 M472.8,249.5V255"/>
<path d="M215.4,249.5V252.3 M262.2,249.5V252.3 M309,249.5V252.3 M355.8,249.5V252.3 M402.6,249.5V252.3 M449.4,249.5V252.3 M496.2,249.5V252.3"/>
</g>
<g font-size="14" font-weight="bold" fill="#111" text-anchor="middle">
<text x="192.2" y="270">200</text><text x="238.8" y="270">400</text><text x="285.6" y="270">600</text><text x="332.4" y="270">800</text><text x="379.2" y="270">1000</text><text x="426" y="270">1200</text><text x="472.8" y="270">1400</text>
</g>
<text x="284.9" y="298.2" font-size="16" font-weight="bold" fill="#111">wavenumber (cm<tspan font-size="9.5" dx="1.2" dy="-9.3">-1</tspan><tspan dx="0.3" dy="9.3">)</tspan></text>
<text transform="translate(178.2,222.1) rotate(-90)" font-size="16.5" font-weight="bold" fill="#111">Raman intensity (a.u.)</text>
<g stroke-width="1.2">
<path d="M352,31.3H391" stroke="#a0a0a0"/>
<path d="M352,53H391" stroke="#b4b4b4"/>
</g>
<g font-size="17.5" fill="#222">
<text x="396.9" y="38">ISG glass</text>
<text x="396.9" y="59.7">FittedCurves</text>
</g>

<!-- ================= Panel (b) ================= -->
<text x="0" y="336.8" font-size="17" font-weight="bold" fill="#111">(b)</text>
<g stroke="#d9d9f5" stroke-width="1">
<path d="M85,346V580 M179.7,346V580 M274,346V580"/>
<path d="M28,367.1H312 M28,420.4H312 M28,473.7H312 M28,527H312"/>
</g>
<defs><clipPath id="cb"><rect x="28" y="346" width="284" height="234"/></clipPath></defs>
<g clip-path="url(#cb)" fill="none" stroke-linejoin="round">
<path d="M28.0,575.6 L28.5,574.6 L29.0,573.7 L29.5,572.9 L30.0,572.3 L30.5,571.2 L31.0,570.3 L31.5,569.5 L32.0,568.4 L32.5,567.2 L33.0,566.5 L33.5,565.5 L34.0,564.5 L34.5,563.3 L35.0,562.3 L35.5,561.6 L36.0,560.7 L36.5,559.6 L37.0,558.7 L37.5,558.1 L38.0,557.0 L38.5,556.4 L39.0,556.0 L39.5,555.5 L40.0,554.6 L40.5,553.8 L41.0,552.8 L41.5,551.6 L42.0,550.8 L42.5,550.0 L43.0,549.4 L43.5,548.6 L44.0,548.3 L44.5,547.8 L45.0,546.8 L45.5,545.9 L46.0,545.2 L46.5,544.4 L47.0,543.6 L47.5,543.0 L48.0,542.5 L48.5,542.0 L49.0,541.4 L49.5,540.8 L50.0,540.2 L50.5,539.3 L51.0,538.4 L51.5,537.5 L52.0,536.7 L52.5,536.3 L53.0,535.7 L53.5,535.0 L54.0,533.9 L54.5,532.7 L55.0,531.1 L55.5,530.0 L56.0,529.2 L56.5,528.6 L57.0,528.1 L57.5,527.5 L58.0,526.5 L58.5,525.3 L59.0,523.9 L59.5,522.5 L60.0,521.0 L60.5,520.0 L61.0,518.8 L61.5,517.9 L62.0,517.0 L62.5,516.3 L63.0,515.0 L63.5,513.5 L64.0,512.2 L64.5,510.5 L65.0,508.9 L65.5,507.4 L66.0,506.1 L66.5,504.5 L67.0,503.1 L67.5,501.7 L68.0,500.5 L68.5,499.2 L69.0,497.6 L69.5,496.5 L70.0,495.0 L70.5,493.6 L71.0,492.0 L71.5,490.5 L72.0,488.6 L72.5,486.8 L73.0,485.0 L73.5,483.7 L74.0,482.4 L74.5,481.2 L75.0,480.1 L75.5,479.3 L76.0,478.1 L76.5,476.7 L77.0,475.6 L77.5,474.5 L78.0,473.0 L78.5,472.0 L79.0,471.2 L79.5,470.2 L80.0,469.2 L80.5,468.6 L81.0,468.1 L81.5,467.7 L82.0,467.3 L82.5,467.0 L83.0,467.2 L83.5,468.3 L84.0,469.7 L84.5,471.3 L85.0,473.4 L85.5,475.6 L86.0,477.2 L86.5,479.5 L87.0,482.2 L87.5,485.0 L88.0,488.2 L88.5,491.2 L89.0,493.5 L89.5,495.9 L90.0,498.6 L90.5,501.0 L91.0,503.5 L91.5,506.2 L92.0,509.0 L92.5,511.3 L93.0,513.7 L93.5,515.7 L94.0,517.9 L94.5,519.8 L95.0,521.1 L95.5,522.6 L96.0,524.4 L96.5,525.7 L97.0,527.0 L97.5,528.5 L98.0,529.3 L98.5,530.3 L99.0,531.3 L99.5,532.7 L100.0,533.5 L100.5,534.7 L101.0,535.8 L101.5,536.8 L102.0,537.6 L102.5,538.7 L103.0,539.7 L103.5,540.6 L104.0,541.6 L104.5,542.1 L105.0,542.5 L105.5,542.8 L106.0,542.8 L106.5,542.3 L107.0,541.9 L107.5,541.3 L108.0,541.1 L108.5,540.8 L109.0,541.4 L109.5,541.9 L110.0,543.0 L110.5,544.4 L111.0,545.5 L111.5,546.4 L112.0,547.8 L112.5,549.1 L113.0,550.0 L113.5,550.7 L114.0,551.4 L114.5,551.9 L115.0,551.9 L115.5,552.5 L116.0,553.1 L116.5,553.8 L117.0,554.6 L117.5,555.4 L118.0,555.6 L118.5,555.5 L119.0,556.0 L119.5,556.1 L120.0,556.1 L120.5,555.8 L121.0,556.5 L121.5,556.3 L122.0,556.0 L122.5,556.3 L123.0,557.1 L123.5,557.5 L124.0,558.0 L124.5,558.9 L125.0,559.4 L125.5,559.7 L126.0,559.8 L126.5,560.6 L127.0,560.5 L127.5,561.1 L128.0,561.4 L128.5,561.6 L129.0,561.3 L129.5,561.5 L130.0,561.1 L130.5,560.7 L131.0,560.6 L131.5,560.6 L132.0,560.6 L132.5,560.6 L133.0,560.5 L133.5,560.2 L134.0,560.1 L134.5,559.9 L135.0,559.8 L135.5,560.0 L136.0,560.4 L136.5,560.7 L137.0,561.0 L137.5,561.7 L138.0,562.2 L138.5,562.4 L139.0,563.0 L139.5,563.4 L140.0,563.8 L140.5,564.6 L141.0,565.3 L141.5,565.9 L142.0,566.6 L142.5,567.6 L143.0,568.1 L143.5,569.3 L144.0,570.3 L144.5,571.2 L145.0,572.0 L145.5,573.1 L146.0,574.0 L146.5,574.8 L147.0,575.6 L147.5,576.1 L148.0,577.1 L148.5,577.7 L149.0,578.1 L149.5,578.8 L150.0,579.7 L150.5,580.1 L151.0,580.3 L151.5,580.6 L152.0,580.4 L152.5,580.3 L153.0,579.9 L153.5,579.9 L154.0,579.2 L154.5,578.9 L155.0,578.3 L155.5,577.7 L156.0,577.1 L156.5,576.5 L157.0,575.3 L157.5,573.9 L158.0,572.6 L158.5,571.4 L159.0,570.2 L159.5,569.0 L160.0,567.9 L160.5,566.8 L161.0,565.2 L161.5,563.6 L162.0,562.5 L162.5,561.5 L163.0,560.3 L163.5,559.2 L164.0,558.0 L164.5,556.9 L165.0,555.1 L165.5,553.8 L166.0,552.5 L166.5,551.1 L167.0,549.5 L167.5,548.3 L168.0,546.8 L168.5,544.8 L169.0,543.6 L169.5,542.2 L170.0,541.4 L170.5,540.4 L171.0,540.0 L171.5,539.3 L172.0,538.5 L172.5,537.6 L173.0,537.0 L173.5,536.3 L174.0,535.5 L174.5,534.8 L175.0,534.0 L175.5,533.1 L176.0,532.2 L176.5,531.5 L177.0,531.3 L177.5,531.0 L178.0,530.9 L178.5,530.8 L179.0,530.9 L179.5,530.6 L180.0,530.7 L180.5,530.4 L181.0,530.3 L181.5,530.5 L182.0,530.7 L182.5,530.5 L183.0,530.6 L183.5,530.8 L184.0,530.6 L184.5,530.4 L185.0,530.6 L185.5,530.7 L186.0,530.7 L186.5,531.1 L187.0,531.2 L187.5,531.4 L188.0,531.8 L188.5,532.1 L189.0,532.0 L189.5,532.6 L190.0,532.7 L190.5,532.9 L191.0,532.9 L191.5,533.4 L192.0,533.8 L192.5,534.4 L193.0,534.2 L193.5,534.8 L194.0,535.1 L194.5,535.1 L195.0,535.5 L195.5,536.6 L196.0,537.2 L196.5,537.9 L197.0,538.6 L197.5,539.2 L198.0,539.9 L198.5,540.4 L199.0,540.9 L199.5,541.5 L200.0,542.1 L200.5,542.7 L201.0,543.4 L201.5,544.3 L202.0,544.9 L202.5,545.1 L203.0,545.8 L203.5,546.7 L204.0,547.0 L204.5,547.4 L205.0,548.9 L205.5,549.6 L206.0,550.0 L206.5,551.2 L207.0,552.3 L207.5,552.5 L208.0,552.9 L208.5,554.1 L209.0,554.6 L209.5,555.4 L210.0,556.5 L210.5,557.7 L211.0,558.4 L211.5,559.1 L212.0,560.2 L212.5,561.3 L213.0,562.3 L213.5,563.2 L214.0,564.4 L214.5,565.1 L215.0,565.7 L215.5,566.6 L216.0,567.3 L216.5,568.2 L217.0,569.0 L217.5,570.1 L218.0,570.7 L218.5,571.4 L219.0,571.7 L219.5,572.2 L220.0,572.1 L220.5,572.1 L221.0,572.1 L221.5,572.2 L222.0,571.9 L222.5,572.1 L223.0,572.1 L223.5,572.3 L224.0,572.4 L224.5,572.8 L225.0,573.0 L225.5,572.9 L226.0,572.8 L226.5,572.9 L227.0,572.6 L227.5,572.8 L228.0,573.2 L228.5,573.1 L229.0,573.5 L229.5,574.2 L230.0,573.9 L230.5,573.7 L231.0,574.1 L231.5,573.8 L232.0,573.7 L232.5,573.8 L233.0,574.0 L233.5,574.2 L234.0,574.3 L234.5,573.9 L235.0,573.6 L235.5,573.1 L236.0,572.6 L236.5,572.1 L237.0,572.2 L237.5,572.4 L238.0,572.4 L238.5,572.0 L239.0,572.0 L239.5,571.4 L240.0,570.8 L240.5,570.5 L241.0,570.5 L241.5,570.2 L242.0,570.3 L242.5,570.0 L243.0,570.0 L243.5,569.3 L244.0,569.4 L244.5,569.4 L245.0,569.4 L245.5,569.2 L246.0,568.8 L246.5,568.7 L247.0,568.3 L247.5,567.9 L248.0,567.7 L248.5,568.1 L249.0,567.6 L249.5,567.5 L250.0,567.5 L250.5,567.4 L251.0,567.4 L251.5,567.3 L252.0,567.2 L252.5,567.3 L253.0,567.0 L253.5,566.8 L254.0,567.0 L254.5,567.3 L255.0,567.2 L255.5,567.3 L256.0,567.4 L256.5,567.3 L257.0,567.2 L257.5,567.3 L258.0,568.0 L258.5,568.1 L259.0,568.4 L259.5,568.9 L260.0,569.1 L260.5,569.1 L261.0,569.2 L261.5,569.3 L262.0,569.2 L262.5,569.4 L263.0,569.6 L263.5,569.8 L264.0,570.1 L264.5,570.2 L265.0,570.2 L265.5,570.2 L266.0,570.6 L266.5,571.3 L267.0,571.5 L267.5,572.0 L268.0,572.2 L268.5,572.2 L269.0,571.9 L269.5,572.0 L270.0,572.4 L270.5,572.7 L271.0,572.8 L271.5,573.1 L272.0,573.2 L272.5,573.2 L273.0,573.6 L273.5,574.0 L274.0,574.1 L274.5,574.6 L275.0,574.2 L275.5,574.2 L276.0,574.1 L276.5,574.1 L277.0,574.1 L277.5,575.0 L278.0,575.1 L278.5,575.7 L279.0,576.3 L279.5,576.4 L280.0,576.1 L280.5,576.4 L281.0,576.1 L281.5,576.3 L282.0,576.6 L282.5,577.0 L283.0,577.5 L283.5,578.0 L284.0,577.5 L284.5,577.5 L285.0,577.8 L285.5,577.3 L286.0,577.3 L286.5,577.8 L287.0,577.9 L287.5,578.2 L288.0,578.7 L288.5,578.7 L289.0,579.0 L289.5,579.6 L290.0,579.5 L290.5,579.6 L291.0,579.8 L291.5,579.8 L292.0,579.7 L292.5,579.7 L293.0,579.8 L293.5,580.0 L294.0,580.4 L294.5,580.7 L295.0,581.0 L295.5,581.5 L296.0,581.5 L296.5,581.0 L297.0,580.8 L297.5,580.8 L298.0,580.5 L298.5,580.8 L299.0,581.2 L299.5,581.6 L300.0,581.4 L300.5,581.5 L301.0,581.5 L301.5,581.4 L302.0,581.1 L302.5,581.1 L303.0,581.1 L303.5,580.8 L304.0,580.7 L304.5,581.1 L305.0,581.3 L305.5,581.3 L306.0,581.3 L306.5,581.4 L307.0,581.3 L307.5,581.4 L308.0,581.4 L308.5,581.5 L309.0,581.6 L309.5,582.0 L310.0,582.1 L310.5,582.1 L311.0,582.6 L311.5,583.3 L312.0,583.0" stroke="#f06a20" stroke-width="1.4" fill="none"/>
<path d="M28.0,564.4 L28.5,563.7 L29.0,563.0 L29.5,561.9 L30.0,560.9 L30.5,559.8 L31.0,558.8 L31.5,557.7 L32.0,556.8 L32.5,556.0 L33.0,554.9 L33.5,553.9 L34.0,552.8 L34.5,552.0 L35.0,551.1 L35.5,550.6 L36.0,550.0 L36.5,549.1 L37.0,548.0 L37.5,546.9 L38.0,545.9 L38.5,544.6 L39.0,543.8 L39.5,543.3 L40.0,542.7 L40.5,542.1 L41.0,541.7 L41.5,540.8 L42.0,540.0 L42.5,539.0 L43.0,538.2 L43.5,536.9 L44.0,536.1 L44.5,534.9 L45.0,534.3 L45.5,533.2 L46.0,532.8 L46.5,532.2 L47.0,531.6 L47.5,530.9 L48.0,530.4 L48.5,529.5 L49.0,528.3 L49.5,527.3 L50.0,526.3 L50.5,525.5 L51.0,525.0 L51.5,524.6 L52.0,524.0 L52.5,523.5 L53.0,522.7 L53.5,521.4 L54.0,520.6 L54.5,519.7 L55.0,518.6 L55.5,517.5 L56.0,516.9 L56.5,515.9 L57.0,515.0 L57.5,514.0 L58.0,512.8 L58.5,511.8 L59.0,510.7 L59.5,509.7 L60.0,508.8 L60.5,507.6 L61.0,506.2 L61.5,505.1 L62.0,503.7 L62.5,502.6 L63.0,501.4 L63.5,500.0 L64.0,498.5 L64.5,497.2 L65.0,496.0 L65.5,494.6 L66.0,493.8 L66.5,492.7 L67.0,491.3 L67.5,489.8 L68.0,488.6 L68.5,486.9 L69.0,485.5 L69.5,484.3 L70.0,482.8 L70.5,481.3 L71.0,480.0 L71.5,478.2 L72.0,476.6 L72.5,475.3 L73.0,473.8 L73.5,472.3 L74.0,471.1 L74.5,469.8 L75.0,468.4 L75.5,467.1 L76.0,466.2 L76.5,464.8 L77.0,463.8 L77.5,462.6 L78.0,462.1 L78.5,461.0 L79.0,460.4 L79.5,459.4 L80.0,458.7 L80.5,457.8 L81.0,457.6 L81.5,457.1 L82.0,457.2 L82.5,457.4 L83.0,458.0 L83.5,458.6 L84.0,460.0 L84.5,461.6 L85.0,463.3 L85.5,465.0 L86.0,467.3 L86.5,469.1 L87.0,471.3 L87.5,473.4 L88.0,476.2 L88.5,478.9 L89.0,482.0 L89.5,484.5 L90.0,487.6 L90.5,490.1 L91.0,492.4 L91.5,495.2 L92.0,497.7 L92.5,499.9 L93.0,502.2 L93.5,504.3 L94.0,506.1 L94.5,508.0 L95.0,509.9 L95.5,511.7 L96.0,513.4 L96.5,514.7 L97.0,516.3 L97.5,517.4 L98.0,519.0 L98.5,520.2 L99.0,521.3 L99.5,522.7 L100.0,523.8 L100.5,524.6 L101.0,525.6 L101.5,526.7 L102.0,527.6 L102.5,528.8 L103.0,529.7 L103.5,530.6 L104.0,531.3 L104.5,531.8 L105.0,532.5 L105.5,532.9 L106.0,532.9 L106.5,532.8 L107.0,532.2 L107.5,531.5 L108.0,531.1 L108.5,531.1 L109.0,531.6 L109.5,532.6 L110.0,533.6 L110.5,534.7 L111.0,536.1 L111.5,537.4 L112.0,538.9 L112.5,539.7 L113.0,540.7 L113.5,541.3 L114.0,542.2 L114.5,542.7 L115.0,543.8 L115.5,544.4 L116.0,545.4 L116.5,545.3 L117.0,545.6 L117.5,545.6 L118.0,546.0 L118.5,546.0 L119.0,546.6 L119.5,546.6 L120.0,546.5 L120.5,546.7 L121.0,546.8 L121.5,546.9 L122.0,547.6 L122.5,548.3 L123.0,548.5 L123.5,549.0 L124.0,549.2 L124.5,549.7 L125.0,550.0 L125.5,550.2 L126.0,550.8 L126.5,551.4 L127.0,551.3 L127.5,551.3 L128.0,551.6 L128.5,551.9 L129.0,551.6 L129.5,551.7 L130.0,552.1 L130.5,551.8 L131.0,551.6 L131.5,551.5 L132.0,551.7 L132.5,551.5 L133.0,551.7 L133.5,551.6 L134.0,551.6 L134.5,551.4 L135.0,551.1 L135.5,551.1 L136.0,550.8 L136.5,551.2 L137.0,551.6 L137.5,552.1 L138.0,552.5 L138.5,553.2 L139.0,553.6 L139.5,553.8 L140.0,554.4 L140.5,555.1 L141.0,555.7 L141.5,556.6 L142.0,557.7 L142.5,558.4 L143.0,559.2 L143.5,560.1 L144.0,560.8 L144.5,561.5 L145.0,562.3 L145.5,563.2 L146.0,563.9 L146.5,564.7 L147.0,565.4 L147.5,566.2 L148.0,567.0 L148.5,567.7 L149.0,568.0 L149.5,568.6 L150.0,568.6 L150.5,568.8 L151.0,568.9 L151.5,569.1 L152.0,569.1 L152.5,569.3 L153.0,569.0 L153.5,568.5 L154.0,568.3 L154.5,568.1 L155.0,567.5 L155.5,566.8 L156.0,566.7 L156.5,565.9 L157.0,564.7 L157.5,563.5 L158.0,562.8 L158.5,561.9 L159.0,560.7 L159.5,559.5 L160.0,558.7 L160.5,557.5 L161.0,555.9 L161.5,554.6 L162.0,553.4 L162.5,552.2 L163.0,550.9 L163.5,549.5 L164.0,548.6 L164.5,547.3 L165.0,545.4 L165.5,544.2 L166.0,543.1 L166.5,541.5 L167.0,540.1 L167.5,539.4 L168.0,538.0 L168.5,536.9 L169.0,535.8 L169.5,534.9 L170.0,534.0 L170.5,533.2 L171.0,531.9 L171.5,531.1 L172.0,530.4 L172.5,529.5 L173.0,529.1 L173.5,528.8 L174.0,528.2 L174.5,527.4 L175.0,526.6 L175.5,525.6 L176.0,524.9 L176.5,524.3 L177.0,523.9 L177.5,523.7 L178.0,523.6 L178.5,523.4 L179.0,522.8 L179.5,522.7 L180.0,522.7 L180.5,522.6 L181.0,522.6 L181.5,522.8 L182.0,523.0 L182.5,522.9 L183.0,522.8 L183.5,522.9 L184.0,522.9 L184.5,522.8 L185.0,522.9 L185.5,523.1 L186.0,523.2 L186.5,523.2 L187.0,523.5 L187.5,523.2 L188.0,523.0 L188.5,523.0 L189.0,523.5 L189.5,523.6 L190.0,524.2 L190.5,525.1 L191.0,525.6 L191.5,525.7 L192.0,526.0 L192.5,526.0 L193.0,526.2 L193.5,526.4 L194.0,527.0 L194.5,527.2 L195.0,527.4 L195.5,527.8 L196.0,528.2 L196.5,528.8 L197.0,529.7 L197.5,530.8 L198.0,531.7 L198.5,532.3 L199.0,532.9 L199.5,533.7 L200.0,534.7 L200.5,535.5 L201.0,536.3 L201.5,537.2 L202.0,537.6 L202.5,538.1 L203.0,538.4 L203.5,539.0 L204.0,539.3 L204.5,540.1 L205.0,540.5 L205.5,541.3 L206.0,542.1 L206.5,543.2 L207.0,543.8 L207.5,544.8 L208.0,545.7 L208.5,546.7 L209.0,547.4 L209.5,548.5 L210.0,549.3 L210.5,550.1 L211.0,550.9 L211.5,551.9 L212.0,553.1 L212.5,553.9 L213.0,554.8 L213.5,555.8 L214.0,556.5 L214.5,557.1 L215.0,557.9 L215.5,558.8 L216.0,559.4 L216.5,560.3 L217.0,560.9 L217.5,561.5 L218.0,561.9 L218.5,562.2 L219.0,562.4 L219.5,562.7 L220.0,562.9 L220.5,562.7 L221.0,562.8 L221.5,562.7 L222.0,562.8 L222.5,563.3 L223.0,563.9 L223.5,563.8 L224.0,564.6 L224.5,564.8 L225.0,564.6 L225.5,564.7 L226.0,565.1 L226.5,564.7 L227.0,564.8 L227.5,565.0 L228.0,565.2 L228.5,565.4 L229.0,565.6 L229.5,565.7 L230.0,565.5 L230.5,565.6 L231.0,565.8 L231.5,565.7 L232.0,565.7 L232.5,566.1 L233.0,565.6 L233.5,565.0 L234.0,565.3 L234.5,565.2 L235.0,564.9 L235.5,564.8 L236.0,564.8 L236.5,564.1 L237.0,563.8 L237.5,563.3 L238.0,563.1 L238.5,562.8 L239.0,562.8 L239.5,562.5 L240.0,562.4 L240.5,562.1 L241.0,562.1 L241.5,561.9 L242.0,561.9 L242.5,561.8 L243.0,561.9 L243.5,561.8 L244.0,561.6 L244.5,561.4 L245.0,561.4 L245.5,561.5 L246.0,561.1 L246.5,560.9 L247.0,560.8 L247.5,560.7 L248.0,560.4 L248.5,560.4 L249.0,560.2 L249.5,559.7 L250.0,559.4 L250.5,559.3 L251.0,559.0 L251.5,559.1 L252.0,559.3 L252.5,559.4 L253.0,559.4 L253.5,559.5 L254.0,559.6 L254.5,559.6 L255.0,559.5 L255.5,559.7 L256.0,559.6 L256.5,559.3 L257.0,559.3 L257.5,559.3 L258.0,559.2 L258.5,559.8 L259.0,560.3 L259.5,560.8 L260.0,560.9 L260.5,561.2 L261.0,561.1 L261.5,561.0 L262.0,560.9 L262.5,560.8 L263.0,560.7 L263.5,560.6 L264.0,560.4 L264.5,560.5 L265.0,560.8 L265.5,560.8 L266.0,561.3 L266.5,561.9 L267.0,562.3 L267.5,562.4 L268.0,562.8 L268.5,562.9 L269.0,563.1 L269.5,563.1 L270.0,563.3 L270.5,563.2 L271.0,563.4 L271.5,563.5 L272.0,563.7 L272.5,563.8 L273.0,564.0 L273.5,564.4 L274.0,564.4 L274.5,564.8 L275.0,565.0 L275.5,565.2 L276.0,564.8 L276.5,565.1 L277.0,564.9 L277.5,565.1 L278.0,565.5 L278.5,565.9 L279.0,565.9 L279.5,565.9 L280.0,566.3 L280.5,566.2 L281.0,566.5 L281.5,566.5 L282.0,567.0 L282.5,567.0 L283.0,567.1 L283.5,566.8 L284.0,567.2 L284.5,566.7 L285.0,567.1 L285.5,567.2 L286.0,567.8 L286.5,567.9 L287.0,568.7 L287.5,568.3 L288.0,568.6 L288.5,568.5 L289.0,568.4 L289.5,568.3 L290.0,568.6 L290.5,568.9 L291.0,568.9 L291.5,569.1 L292.0,569.4 L292.5,569.4 L293.0,569.4 L293.5,569.8 L294.0,569.8 L294.5,569.6 L295.0,569.8 L295.5,569.9 L296.0,569.9 L296.5,569.7 L297.0,570.0 L297.5,569.8 L298.0,569.6 L298.5,569.3 L299.0,569.5 L299.5,569.4 L300.0,569.8 L300.5,570.0 L301.0,570.1 L301.5,570.4 L302.0,570.5 L302.5,570.3 L303.0,570.4 L303.5,570.6 L304.0,570.5 L304.5,570.3 L305.0,570.6 L305.5,570.5 L306.0,570.7 L306.5,570.9 L307.0,571.0 L307.5,571.1 L308.0,571.2 L308.5,571.4 L309.0,571.6 L309.5,571.8 L310.0,571.8 L310.5,572.1 L311.0,572.0 L311.5,571.6 L312.0,571.5" stroke="#22e022" stroke-width="1.4" fill="none"/>
<path d="M28.0,552.4 L28.5,551.4 L29.0,550.7 L29.5,549.7 L30.0,548.6 L30.5,547.7 L31.0,547.1 L31.5,546.3 L32.0,545.4 L32.5,544.6 L33.0,543.7 L33.5,542.7 L34.0,541.8 L34.5,540.9 L35.0,540.1 L35.5,539.5 L36.0,538.6 L36.5,537.3 L37.0,536.4 L37.5,535.6 L38.0,534.4 L38.5,533.5 L39.0,532.6 L39.5,531.8 L40.0,531.0 L40.5,530.3 L41.0,529.4 L41.5,528.4 L42.0,527.7 L42.5,526.7 L43.0,525.5 L43.5,524.9 L44.0,524.2 L44.5,523.0 L45.0,522.1 L45.5,521.3 L46.0,520.1 L46.5,519.6 L47.0,518.8 L47.5,518.1 L48.0,517.7 L48.5,517.1 L49.0,516.1 L49.5,515.4 L50.0,514.8 L50.5,513.8 L51.0,512.9 L51.5,512.4 L52.0,511.7 L52.5,510.4 L53.0,509.5 L53.5,509.1 L54.0,507.7 L54.5,506.3 L55.0,505.7 L55.5,504.6 L56.0,503.1 L56.5,502.6 L57.0,501.8 L57.5,500.7 L58.0,500.0 L58.5,499.2 L59.0,497.8 L59.5,497.1 L60.0,496.1 L60.5,494.8 L61.0,493.5 L61.5,492.3 L62.0,491.0 L62.5,489.4 L63.0,488.5 L63.5,487.1 L64.0,486.3 L64.5,484.8 L65.0,483.7 L65.5,482.3 L66.0,481.4 L66.5,480.1 L67.0,478.9 L67.5,477.8 L68.0,476.4 L68.5,475.1 L69.0,473.9 L69.5,472.8 L70.0,471.4 L70.5,470.1 L71.0,468.5 L71.5,466.8 L72.0,465.5 L72.5,464.1 L73.0,462.8 L73.5,461.5 L74.0,460.1 L74.5,458.6 L75.0,457.6 L75.5,456.4 L76.0,455.4 L76.5,454.8 L77.0,453.7 L77.5,452.7 L78.0,451.7 L78.5,450.9 L79.0,449.8 L79.5,449.1 L80.0,448.4 L80.5,448.1 L81.0,447.6 L81.5,447.7 L82.0,447.5 L82.5,447.8 L83.0,448.6 L83.5,449.3 L84.0,450.4 L84.5,452.2 L85.0,453.9 L85.5,455.6 L86.0,457.3 L86.5,459.5 L87.0,461.8 L87.5,464.3 L88.0,466.8 L88.5,469.7 L89.0,472.2 L89.5,474.5 L90.0,476.9 L90.5,479.2 L91.0,482.0 L91.5,484.4 L92.0,487.1 L92.5,489.6 L93.0,492.0 L93.5,493.9 L94.0,496.2 L94.5,498.1 L95.0,499.7 L95.5,501.7 L96.0,503.5 L96.5,505.0 L97.0,506.4 L97.5,507.9 L98.0,509.1 L98.5,510.1 L99.0,511.2 L99.5,512.4 L100.0,513.7 L100.5,514.9 L101.0,516.0 L101.5,517.3 L102.0,518.4 L102.5,519.2 L103.0,519.9 L103.5,520.8 L104.0,521.7 L104.5,522.3 L105.0,523.4 L105.5,524.1 L106.0,523.9 L106.5,523.8 L107.0,523.4 L107.5,522.9 L108.0,522.5 L108.5,522.7 L109.0,522.9 L109.5,523.8 L110.0,524.6 L110.5,526.0 L111.0,527.7 L111.5,528.9 L112.0,529.9 L112.5,531.0 L113.0,531.9 L113.5,532.4 L114.0,533.3 L114.5,534.0 L115.0,534.8 L115.5,535.4 L116.0,536.3 L116.5,536.9 L117.0,537.5 L117.5,537.7 L118.0,537.9 L118.5,537.9 L119.0,537.8 L119.5,537.9 L120.0,538.0 L120.5,538.2 L121.0,538.6 L121.5,538.9 L122.0,539.2 L122.5,539.7 L123.0,539.9 L123.5,539.9 L124.0,540.7 L124.5,540.9 L125.0,541.0 L125.5,541.8 L126.0,542.4 L126.5,542.3 L127.0,542.9 L127.5,543.3 L128.0,543.2 L128.5,543.1 L129.0,543.1 L129.5,542.9 L130.0,542.8 L130.5,542.7 L131.0,543.0 L131.5,543.1 L132.0,543.2 L132.5,543.5 L133.0,543.9 L133.5,543.4 L134.0,543.1 L134.5,543.4 L135.0,543.2 L135.5,542.9 L136.0,543.2 L136.5,543.6 L137.0,543.7 L137.5,544.2 L138.0,544.6 L138.5,545.1 L139.0,545.6 L139.5,546.2 L140.0,546.6 L140.5,547.2 L141.0,548.0 L141.5,548.7 L142.0,549.0 L142.5,550.2 L143.0,551.0 L143.5,551.9 L144.0,552.3 L144.5,553.0 L145.0,553.3 L145.5,553.9 L146.0,554.4 L146.5,555.6 L147.0,556.5 L147.5,557.0 L148.0,558.0 L148.5,558.8 L149.0,558.9 L149.5,559.6 L150.0,560.0 L150.5,559.9 L151.0,559.9 L151.5,560.2 L152.0,560.3 L152.5,560.2 L153.0,560.0 L153.5,559.7 L154.0,559.3 L154.5,558.5 L155.0,558.2 L155.5,558.0 L156.0,557.9 L156.5,557.2 L157.0,556.6 L157.5,555.6 L158.0,554.5 L158.5,553.3 L159.0,552.0 L159.5,550.8 L160.0,549.7 L160.5,548.5 L161.0,547.1 L161.5,546.4 L162.0,545.3 L162.5,544.8 L163.0,544.1 L163.5,542.9 L164.0,541.7 L164.5,540.4 L165.0,538.8 L165.5,537.4 L166.0,536.3 L166.5,535.1 L167.0,534.2 L167.5,532.9 L168.0,531.7 L168.5,530.5 L169.0,529.4 L169.5,528.2 L170.0,527.3 L170.5,526.5 L171.0,525.6 L171.5,524.8 L172.0,524.0 L172.5,523.1 L173.0,522.5 L173.5,522.0 L174.0,521.3 L174.5,521.0 L175.0,520.5 L175.5,520.0 L176.0,519.5 L176.5,519.1 L177.0,518.5 L177.5,518.1 L178.0,517.6 L178.5,517.3 L179.0,517.3 L179.5,517.3 L180.0,517.3 L180.5,517.3 L181.0,517.2 L181.5,517.1 L182.0,516.8 L182.5,517.0 L183.0,517.1 L183.5,517.2 L184.0,517.1 L184.5,517.6 L185.0,517.4 L185.5,517.2 L186.0,517.3 L186.5,517.4 L187.0,517.2 L187.5,517.1 L188.0,517.5 L188.5,517.7 L189.0,518.2 L189.5,518.6 L190.0,518.8 L190.5,518.8 L191.0,519.1 L191.5,518.9 L192.0,518.8 L192.5,519.7 L193.0,520.1 L193.5,520.3 L194.0,521.1 L194.5,521.8 L195.0,522.0 L195.5,522.8 L196.0,523.4 L196.5,524.1 L197.0,524.9 L197.5,525.5 L198.0,526.0 L198.5,526.8 L199.0,527.2 L199.5,527.6 L200.0,528.4 L200.5,529.0 L201.0,529.7 L201.5,530.4 L202.0,531.3 L202.5,531.9 L203.0,532.9 L203.5,533.5 L204.0,534.2 L204.5,534.8 L205.0,535.7 L205.5,536.1 L206.0,537.5 L206.5,538.4 L207.0,538.9 L207.5,539.7 L208.0,540.9 L208.5,541.6 L209.0,542.4 L209.5,543.4 L210.0,544.4 L210.5,545.0 L211.0,545.6 L211.5,546.2 L212.0,547.0 L212.5,547.6 L213.0,548.2 L213.5,549.1 L214.0,550.2 L214.5,551.1 L215.0,552.0 L215.5,553.1 L216.0,554.0 L216.5,554.5 L217.0,555.2 L217.5,555.6 L218.0,555.9 L218.5,556.1 L219.0,556.5 L219.5,556.7 L220.0,556.9 L220.5,557.1 L221.0,557.1 L221.5,556.9 L222.0,556.7 L222.5,557.1 L223.0,557.0 L223.5,557.3 L224.0,557.7 L224.5,557.9 L225.0,558.3 L225.5,558.6 L226.0,558.4 L226.5,558.5 L227.0,558.6 L227.5,557.9 L228.0,557.5 L228.5,557.9 L229.0,558.1 L229.5,558.2 L230.0,558.4 L230.5,558.6 L231.0,558.3 L231.5,558.0 L232.0,557.6 L232.5,557.7 L233.0,557.2 L233.5,556.6 L234.0,556.3 L234.5,556.5 L235.0,556.0 L235.5,556.0 L236.0,556.3 L236.5,556.0 L237.0,555.5 L237.5,555.4 L238.0,555.2 L238.5,554.8 L239.0,554.8 L239.5,554.7 L240.0,554.8 L240.5,554.6 L241.0,554.5 L241.5,554.3 L242.0,554.1 L242.5,553.6 L243.0,553.6 L243.5,554.0 L244.0,553.9 L244.5,553.4 L245.0,553.4 L245.5,552.9 L246.0,552.2 L246.5,552.3 L247.0,552.3 L247.5,552.1 L248.0,552.3 L248.5,552.2 L249.0,552.0 L249.5,552.0 L250.0,552.0 L250.5,552.0 L251.0,552.2 L251.5,551.9 L252.0,551.4 L252.5,551.2 L253.0,551.3 L253.5,551.0 L254.0,550.8 L254.5,551.0 L255.0,551.1 L255.5,550.8 L256.0,550.8 L256.5,551.1 L257.0,551.2 L257.5,551.3 L258.0,551.5 L258.5,551.7 L259.0,551.8 L259.5,552.0 L260.0,552.0 L260.5,552.2 L261.0,552.1 L261.5,552.1 L262.0,552.0 L262.5,551.9 L263.0,551.8 L263.5,551.7 L264.0,551.7 L264.5,552.0 L265.0,552.3 L265.5,552.3 L266.0,552.4 L266.5,552.3 L267.0,552.6 L267.5,552.5 L268.0,552.8 L268.5,553.1 L269.0,553.4 L269.5,552.9 L270.0,553.0 L270.5,553.0 L271.0,553.1 L271.5,553.2 L272.0,553.6 L272.5,553.9 L273.0,553.8 L273.5,554.0 L274.0,554.1 L274.5,553.8 L275.0,554.2 L275.5,554.8 L276.0,555.1 L276.5,555.4 L277.0,556.0 L277.5,555.9 L278.0,555.8 L278.5,556.0 L279.0,556.1 L279.5,555.8 L280.0,556.0 L280.5,556.4 L281.0,556.2 L281.5,556.3 L282.0,556.9 L282.5,557.2 L283.0,557.6 L283.5,557.7 L284.0,558.3 L284.5,558.4 L285.0,558.6 L285.5,558.5 L286.0,558.8 L286.5,558.7 L287.0,558.6 L287.5,558.8 L288.0,558.9 L288.5,559.0 L289.0,558.9 L289.5,559.4 L290.0,559.8 L290.5,559.9 L291.0,560.2 L291.5,560.5 L292.0,560.3 L292.5,560.1 L293.0,560.5 L293.5,560.1 L294.0,560.0 L294.5,560.5 L295.0,560.4 L295.5,560.2 L296.0,560.1 L296.5,560.3 L297.0,559.7 L297.5,559.7 L298.0,559.9 L298.5,560.0 L299.0,559.8 L299.5,560.4 L300.0,560.7 L300.5,560.6 L301.0,561.0 L301.5,561.2 L302.0,561.1 L302.5,560.8 L303.0,560.9 L303.5,560.7 L304.0,560.6 L304.5,560.3 L305.0,560.2 L305.5,560.0 L306.0,559.9 L306.5,560.2 L307.0,560.2 L307.5,560.8 L308.0,560.9 L308.5,561.4 L309.0,561.2 L309.5,561.3 L310.0,560.8 L310.5,560.6 L311.0,560.2 L311.5,560.0 L312.0,559.9" stroke="#3ae0f8" stroke-width="1.4" fill="none"/>
<path d="M28.0,540.4 L28.5,539.5 L29.0,538.6 L29.5,537.8 L30.0,536.8 L30.5,536.0 L31.0,535.0 L31.5,534.6 L32.0,533.7 L32.5,533.0 L33.0,532.3 L33.5,531.6 L34.0,530.3 L34.5,529.1 L35.0,528.1 L35.5,527.1 L36.0,526.0 L36.5,525.1 L37.0,524.7 L37.5,523.9 L38.0,522.9 L38.5,522.1 L39.0,521.4 L39.5,520.5 L40.0,519.7 L40.5,518.8 L41.0,517.9 L41.5,516.6 L42.0,515.4 L42.5,514.5 L43.0,513.8 L43.5,513.0 L44.0,512.1 L44.5,511.3 L45.0,510.2 L45.5,509.5 L46.0,508.6 L46.5,507.9 L47.0,507.0 L47.5,506.3 L48.0,505.2 L48.5,504.3 L49.0,503.5 L49.5,502.6 L50.0,501.9 L50.5,501.1 L51.0,500.5 L51.5,499.5 L52.0,498.6 L52.5,497.4 L53.0,496.3 L53.5,495.3 L54.0,494.2 L54.5,493.4 L55.0,493.0 L55.5,492.2 L56.0,491.7 L56.5,490.9 L57.0,489.8 L57.5,488.7 L58.0,487.6 L58.5,486.5 L59.0,485.9 L59.5,484.9 L60.0,483.8 L60.5,482.8 L61.0,481.6 L61.5,480.4 L62.0,479.1 L62.5,478.0 L63.0,477.0 L63.5,475.9 L64.0,474.7 L64.5,473.8 L65.0,472.4 L65.5,471.4 L66.0,470.0 L66.5,468.7 L67.0,467.6 L67.5,467.0 L68.0,465.8 L68.5,464.7 L69.0,463.5 L69.5,462.3 L70.0,461.0 L70.5,459.3 L71.0,458.2 L71.5,456.7 L72.0,455.3 L72.5,453.9 L73.0,452.9 L73.5,451.4 L74.0,450.5 L74.5,449.2 L75.0,447.9 L75.5,446.7 L76.0,445.9 L76.5,444.6 L77.0,443.7 L77.5,442.8 L78.0,441.9 L78.5,440.8 L79.0,440.4 L79.5,439.3 L80.0,439.0 L80.5,439.1 L81.0,438.8 L81.5,438.6 L82.0,438.9 L82.5,439.1 L83.0,439.3 L83.5,440.2 L84.0,441.5 L84.5,442.8 L85.0,444.4 L85.5,446.3 L86.0,448.3 L86.5,450.0 L87.0,452.3 L87.5,454.6 L88.0,457.0 L88.5,459.1 L89.0,461.8 L89.5,464.1 L90.0,466.4 L90.5,468.8 L91.0,471.5 L91.5,473.7 L92.0,475.9 L92.5,478.2 L93.0,480.3 L93.5,482.3 L94.0,484.3 L94.5,486.2 L95.0,487.9 L95.5,489.7 L96.0,491.2 L96.5,492.7 L97.0,494.3 L97.5,495.7 L98.0,496.9 L98.5,498.3 L99.0,499.5 L99.5,500.4 L100.0,501.2 L100.5,502.1 L101.0,503.2 L101.5,504.2 L102.0,505.4 L102.5,506.4 L103.0,507.3 L103.5,508.1 L104.0,509.0 L104.5,509.6 L105.0,510.1 L105.5,510.8 L106.0,510.9 L106.5,510.5 L107.0,510.1 L107.5,510.1 L108.0,509.8 L108.5,509.8 L109.0,510.1 L109.5,511.1 L110.0,511.9 L110.5,513.1 L111.0,514.7 L111.5,516.4 L112.0,517.7 L112.5,518.6 L113.0,519.4 L113.5,520.1 L114.0,520.8 L114.5,521.1 L115.0,522.0 L115.5,522.4 L116.0,523.1 L116.5,523.5 L117.0,523.9 L117.5,524.1 L118.0,524.6 L118.5,524.5 L119.0,524.7 L119.5,525.1 L120.0,525.5 L120.5,525.9 L121.0,526.6 L121.5,526.7 L122.0,527.2 L122.5,527.3 L123.0,527.6 L123.5,527.8 L124.0,528.3 L124.5,528.6 L125.0,529.0 L125.5,529.4 L126.0,529.8 L126.5,530.5 L127.0,530.7 L127.5,531.0 L128.0,531.4 L128.5,531.4 L129.0,531.4 L129.5,531.9 L130.0,531.9 L130.5,531.8 L131.0,532.1 L131.5,531.9 L132.0,531.5 L132.5,531.4 L133.0,531.5 L133.5,531.3 L134.0,531.4 L134.5,531.4 L135.0,531.6 L135.5,531.6 L136.0,532.0 L136.5,532.2 L137.0,532.5 L137.5,533.1 L138.0,533.6 L138.5,533.9 L139.0,534.5 L139.5,535.2 L140.0,535.2 L140.5,535.8 L141.0,536.6 L141.5,537.3 L142.0,537.8 L142.5,538.7 L143.0,539.4 L143.5,540.1 L144.0,540.7 L144.5,541.5 L145.0,542.1 L145.5,542.7 L146.0,543.1 L146.5,543.8 L147.0,544.3 L147.5,545.0 L148.0,545.5 L148.5,546.3 L149.0,546.8 L149.5,547.2 L150.0,547.5 L150.5,548.0 L151.0,548.0 L151.5,547.9 L152.0,547.5 L152.5,547.2 L153.0,547.1 L153.5,546.8 L154.0,546.5 L154.5,546.3 L155.0,546.2 L155.5,545.5 L156.0,545.0 L156.5,544.5 L157.0,544.0 L157.5,543.0 L158.0,542.4 L158.5,541.4 L159.0,540.4 L159.5,539.5 L160.0,538.9 L160.5,537.8 L161.0,537.0 L161.5,536.2 L162.0,534.9 L162.5,533.6 L163.0,532.6 L163.5,531.5 L164.0,530.5 L164.5,529.7 L165.0,528.8 L165.5,527.9 L166.0,526.9 L166.5,525.6 L167.0,524.8 L167.5,523.7 L168.0,522.5 L168.5,521.2 L169.0,520.0 L169.5,518.8 L170.0,517.8 L170.5,516.9 L171.0,516.4 L171.5,515.5 L172.0,514.9 L172.5,514.4 L173.0,513.7 L173.5,513.2 L174.0,512.9 L174.5,512.3 L175.0,511.7 L175.5,511.4 L176.0,510.9 L176.5,510.4 L177.0,510.0 L177.5,509.5 L178.0,508.9 L178.5,508.9 L179.0,509.2 L179.5,509.2 L180.0,509.5 L180.5,509.9 L181.0,509.7 L181.5,509.5 L182.0,509.5 L182.5,508.9 L183.0,508.9 L183.5,508.9 L184.0,508.8 L184.5,508.9 L185.0,509.4 L185.5,509.3 L186.0,509.5 L186.5,509.6 L187.0,509.5 L187.5,509.6 L188.0,509.7 L188.5,509.9 L189.0,510.1 L189.5,510.5 L190.0,510.3 L190.5,510.5 L191.0,510.6 L191.5,510.6 L192.0,510.8 L192.5,511.4 L193.0,511.8 L193.5,512.6 L194.0,513.1 L194.5,513.6 L195.0,514.0 L195.5,514.4 L196.0,514.7 L196.5,515.3 L197.0,515.8 L197.5,516.5 L198.0,517.1 L198.5,517.7 L199.0,518.4 L199.5,519.3 L200.0,520.2 L200.5,521.3 L201.0,522.6 L201.5,523.2 L202.0,524.1 L202.5,524.7 L203.0,525.2 L203.5,525.5 L204.0,526.4 L204.5,527.1 L205.0,528.0 L205.5,529.0 L206.0,529.9 L206.5,530.6 L207.0,531.3 L207.5,532.1 L208.0,532.5 L208.5,533.6 L209.0,534.7 L209.5,535.7 L210.0,536.6 L210.5,537.4 L211.0,537.9 L211.5,538.2 L212.0,538.7 L212.5,539.0 L213.0,539.7 L213.5,540.7 L214.0,541.9 L214.5,542.5 L215.0,543.8 L215.5,544.5 L216.0,544.8 L216.5,545.4 L217.0,546.3 L217.5,546.4 L218.0,547.0 L218.5,547.2 L219.0,547.4 L219.5,547.2 L220.0,547.6 L220.5,547.5 L221.0,547.7 L221.5,547.8 L222.0,548.0 L222.5,547.9 L223.0,547.8 L223.5,548.0 L224.0,548.2 L224.5,548.3 L225.0,548.2 L225.5,548.4 L226.0,548.4 L226.5,548.5 L227.0,548.4 L227.5,548.5 L228.0,548.7 L228.5,548.5 L229.0,548.1 L229.5,547.9 L230.0,548.1 L230.5,547.6 L231.0,547.8 L231.5,547.7 L232.0,547.9 L232.5,547.7 L233.0,547.5 L233.5,547.4 L234.0,547.4 L234.5,547.0 L235.0,546.6 L235.5,546.7 L236.0,546.5 L236.5,546.2 L237.0,546.0 L237.5,545.9 L238.0,545.2 L238.5,545.1 L239.0,544.8 L239.5,544.7 L240.0,544.2 L240.5,544.0 L241.0,543.9 L241.5,543.7 L242.0,543.4 L242.5,543.6 L243.0,543.8 L243.5,543.7 L244.0,543.8 L244.5,543.7 L245.0,543.7 L245.5,543.4 L246.0,542.8 L246.5,542.6 L247.0,542.2 L247.5,542.3 L248.0,542.1 L248.5,542.1 L249.0,542.1 L249.5,542.0 L250.0,541.6 L250.5,541.1 L251.0,541.0 L251.5,540.7 L252.0,540.5 L252.5,540.5 L253.0,540.7 L253.5,540.9 L254.0,541.0 L254.5,541.2 L255.0,541.2 L255.5,540.9 L256.0,540.6 L256.5,540.7 L257.0,540.5 L257.5,540.3 L258.0,540.6 L258.5,540.7 L259.0,540.4 L259.5,540.5 L260.0,540.6 L260.5,540.3 L261.0,540.2 L261.5,540.5 L262.0,540.5 L262.5,540.6 L263.0,540.7 L263.5,540.8 L264.0,540.8 L264.5,541.0 L265.0,541.1 L265.5,541.2 L266.0,541.5 L266.5,541.5 L267.0,541.4 L267.5,541.7 L268.0,542.0 L268.5,542.0 L269.0,542.1 L269.5,542.7 L270.0,542.9 L270.5,543.1 L271.0,543.2 L271.5,543.6 L272.0,543.8 L272.5,543.7 L273.0,543.9 L273.5,543.8 L274.0,543.8 L274.5,543.8 L275.0,544.1 L275.5,544.1 L276.0,544.7 L276.5,545.1 L277.0,545.4 L277.5,545.5 L278.0,545.8 L278.5,545.8 L279.0,545.9 L279.5,546.0 L280.0,546.1 L280.5,546.4 L281.0,546.7 L281.5,546.8 L282.0,547.0 L282.5,546.9 L283.0,547.3 L283.5,547.1 L284.0,547.1 L284.5,547.1 L285.0,547.6 L285.5,547.3 L286.0,547.3 L286.5,547.5 L287.0,547.3 L287.5,547.5 L288.0,547.5 L288.5,547.5 L289.0,547.5 L289.5,547.8 L290.0,547.6 L290.5,547.8 L291.0,547.9 L291.5,548.0 L292.0,548.1 L292.5,548.3 L293.0,548.1 L293.5,548.2 L294.0,548.4 L294.5,548.4 L295.0,548.5 L295.5,548.7 L296.0,548.8 L296.5,548.7 L297.0,548.6 L297.5,548.5 L298.0,548.6 L298.5,548.5 L299.0,548.8 L299.5,548.9 L300.0,548.9 L300.5,549.0 L301.0,549.3 L301.5,549.1 L302.0,548.8 L302.5,548.8 L303.0,548.6 L303.5,548.3 L304.0,548.1 L304.5,548.1 L305.0,548.1 L305.5,548.1 L306.0,548.3 L306.5,548.3 L307.0,548.5 L307.5,548.3 L308.0,548.4 L308.5,548.3 L309.0,548.7 L309.5,548.6 L310.0,548.7 L310.5,548.7 L311.0,548.4 L311.5,548.2 L312.0,548.2" stroke="#ee2a8e" stroke-width="1.4" fill="none"/>
<path d="M28.0,530.6 L28.5,529.6 L29.0,528.9 L29.5,528.2 L30.0,527.0 L30.5,526.2 L31.0,525.6 L31.5,524.7 L32.0,523.8 L32.5,523.2 L33.0,522.3 L33.5,521.2 L34.0,520.3 L34.5,519.4 L35.0,518.4 L35.5,517.6 L36.0,516.8 L36.5,515.9 L37.0,515.3 L37.5,514.1 L38.0,513.1 L38.5,511.9 L39.0,510.9 L39.5,509.8 L40.0,508.8 L40.5,508.0 L41.0,507.2 L41.5,506.2 L42.0,505.0 L42.5,504.3 L43.0,503.2 L43.5,502.0 L44.0,501.0 L44.5,500.1 L45.0,498.9 L45.5,497.9 L46.0,497.2 L46.5,496.3 L47.0,495.4 L47.5,494.6 L48.0,493.6 L48.5,492.7 L49.0,491.7 L49.5,490.9 L50.0,489.9 L50.5,489.1 L51.0,487.9 L51.5,487.1 L52.0,486.1 L52.5,485.2 L53.0,484.0 L53.5,483.2 L54.0,482.3 L54.5,481.5 L55.0,480.4 L55.5,479.9 L56.0,479.1 L56.5,478.0 L57.0,476.9 L57.5,475.9 L58.0,474.8 L58.5,473.9 L59.0,473.1 L59.5,472.0 L60.0,470.9 L60.5,469.5 L61.0,468.2 L61.5,466.9 L62.0,465.8 L62.5,464.8 L63.0,464.0 L63.5,463.0 L64.0,462.0 L64.5,461.2 L65.0,460.2 L65.5,459.0 L66.0,458.1 L66.5,456.7 L67.0,455.4 L67.5,454.2 L68.0,453.1 L68.5,451.7 L69.0,450.6 L69.5,449.4 L70.0,448.5 L70.5,447.2 L71.0,445.9 L71.5,444.6 L72.0,443.3 L72.5,441.7 L73.0,440.5 L73.5,439.1 L74.0,437.9 L74.5,436.8 L75.0,435.6 L75.5,434.6 L76.0,433.6 L76.5,432.5 L77.0,431.7 L77.5,431.1 L78.0,430.4 L78.5,429.8 L79.0,429.3 L79.5,428.7 L80.0,428.4 L80.5,428.1 L81.0,427.8 L81.5,427.8 L82.0,427.7 L82.5,427.7 L83.0,428.1 L83.5,429.4 L84.0,430.7 L84.5,432.3 L85.0,434.0 L85.5,435.9 L86.0,437.5 L86.5,439.4 L87.0,441.3 L87.5,443.7 L88.0,445.7 L88.5,448.3 L89.0,450.5 L89.5,452.8 L90.0,455.0 L90.5,457.2 L91.0,459.4 L91.5,461.8 L92.0,464.4 L92.5,466.5 L93.0,469.1 L93.5,471.3 L94.0,473.4 L94.5,475.2 L95.0,477.3 L95.5,479.0 L96.0,480.7 L96.5,482.1 L97.0,483.7 L97.5,485.1 L98.0,486.4 L98.5,487.4 L99.0,488.7 L99.5,489.8 L100.0,490.9 L100.5,492.1 L101.0,493.4 L101.5,494.4 L102.0,495.5 L102.5,496.3 L103.0,497.3 L103.5,498.2 L104.0,499.2 L104.5,499.8 L105.0,500.7 L105.5,501.2 L106.0,501.2 L106.5,500.9 L107.0,501.0 L107.5,500.7 L108.0,500.9 L108.5,501.3 L109.0,502.1 L109.5,502.9 L110.0,503.9 L110.5,504.8 L111.0,506.0 L111.5,507.1 L112.0,508.1 L112.5,509.2 L113.0,510.0 L113.5,510.7 L114.0,511.4 L114.5,512.2 L115.0,512.9 L115.5,513.8 L116.0,514.3 L116.5,514.5 L117.0,514.8 L117.5,514.8 L118.0,515.1 L118.5,515.4 L119.0,515.7 L119.5,515.8 L120.0,516.1 L120.5,516.1 L121.0,516.4 L121.5,516.8 L122.0,517.1 L122.5,517.3 L123.0,517.7 L123.5,518.2 L124.0,518.4 L124.5,518.8 L125.0,519.1 L125.5,519.3 L126.0,519.5 L126.5,519.8 L127.0,520.2 L127.5,520.9 L128.0,521.3 L128.5,521.6 L129.0,521.9 L129.5,522.0 L130.0,521.7 L130.5,521.3 L131.0,521.3 L131.5,521.1 L132.0,521.0 L132.5,520.9 L133.0,520.7 L133.5,520.4 L134.0,520.6 L134.5,520.9 L135.0,521.1 L135.5,521.5 L136.0,521.9 L136.5,522.2 L137.0,522.4 L137.5,522.4 L138.0,523.1 L138.5,523.5 L139.0,523.9 L139.5,524.3 L140.0,524.9 L140.5,525.5 L141.0,526.1 L141.5,526.7 L142.0,527.6 L142.5,528.3 L143.0,528.7 L143.5,529.3 L144.0,530.0 L144.5,530.4 L145.0,531.0 L145.5,531.8 L146.0,532.6 L146.5,533.2 L147.0,533.7 L147.5,534.1 L148.0,534.5 L148.5,534.8 L149.0,534.8 L149.5,535.1 L150.0,535.1 L150.5,535.3 L151.0,535.6 L151.5,535.7 L152.0,535.6 L152.5,535.5 L153.0,535.3 L153.5,534.8 L154.0,534.7 L154.5,534.6 L155.0,534.2 L155.5,533.8 L156.0,533.5 L156.5,532.8 L157.0,532.3 L157.5,531.6 L158.0,530.9 L158.5,530.1 L159.0,529.5 L159.5,528.3 L160.0,527.5 L160.5,526.5 L161.0,525.3 L161.5,524.1 L162.0,523.5 L162.5,522.4 L163.0,521.5 L163.5,521.0 L164.0,520.3 L164.5,519.2 L165.0,518.4 L165.5,517.5 L166.0,516.2 L166.5,514.9 L167.0,514.0 L167.5,512.8 L168.0,511.8 L168.5,510.7 L169.0,509.7 L169.5,508.5 L170.0,507.9 L170.5,507.0 L171.0,506.2 L171.5,505.8 L172.0,505.2 L172.5,504.4 L173.0,504.0 L173.5,503.5 L174.0,502.9 L174.5,502.3 L175.0,501.8 L175.5,501.1 L176.0,500.7 L176.5,500.4 L177.0,500.1 L177.5,499.7 L178.0,499.6 L178.5,499.2 L179.0,499.2 L179.5,499.1 L180.0,499.2 L180.5,499.1 L181.0,499.3 L181.5,499.2 L182.0,499.4 L182.5,499.2 L183.0,499.0 L183.5,498.9 L184.0,498.7 L184.5,498.4 L185.0,498.3 L185.5,498.6 L186.0,498.6 L186.5,498.8 L187.0,499.1 L187.5,499.5 L188.0,499.5 L188.5,499.5 L189.0,499.5 L189.5,499.5 L190.0,499.5 L190.5,499.7 L191.0,499.8 L191.5,500.1 L192.0,500.5 L192.5,500.7 L193.0,501.1 L193.5,501.4 L194.0,501.7 L194.5,502.2 L195.0,502.7 L195.5,503.2 L196.0,503.7 L196.5,504.1 L197.0,504.6 L197.5,505.2 L198.0,505.6 L198.5,506.6 L199.0,507.7 L199.5,508.5 L200.0,509.4 L200.5,510.5 L201.0,511.2 L201.5,511.9 L202.0,512.8 L202.5,513.5 L203.0,514.1 L203.5,514.7 L204.0,515.5 L204.5,516.3 L205.0,517.0 L205.5,517.7 L206.0,518.5 L206.5,519.2 L207.0,519.9 L207.5,520.6 L208.0,521.5 L208.5,522.5 L209.0,523.1 L209.5,523.7 L210.0,524.4 L210.5,525.0 L211.0,525.5 L211.5,526.2 L212.0,527.0 L212.5,527.8 L213.0,528.5 L213.5,529.4 L214.0,530.1 L214.5,530.5 L215.0,531.1 L215.5,531.8 L216.0,532.2 L216.5,533.0 L217.0,533.8 L217.5,534.2 L218.0,534.9 L218.5,535.5 L219.0,535.5 L219.5,535.7 L220.0,536.1 L220.5,536.1 L221.0,536.4 L221.5,536.6 L222.0,536.9 L222.5,536.7 L223.0,536.7 L223.5,536.7 L224.0,536.8 L224.5,536.8 L225.0,537.0 L225.5,537.1 L226.0,537.4 L226.5,537.5 L227.0,537.6 L227.5,537.5 L228.0,537.4 L228.5,537.3 L229.0,537.1 L229.5,536.9 L230.0,537.0 L230.5,537.1 L231.0,536.8 L231.5,536.8 L232.0,536.8 L232.5,536.7 L233.0,536.3 L233.5,536.5 L234.0,536.5 L234.5,536.5 L235.0,536.4 L235.5,536.5 L236.0,536.1 L236.5,535.9 L237.0,535.4 L237.5,535.2 L238.0,534.8 L238.5,534.8 L239.0,534.7 L239.5,534.6 L240.0,534.4 L240.5,534.2 L241.0,533.9 L241.5,533.6 L242.0,533.4 L242.5,533.1 L243.0,533.1 L243.5,533.0 L244.0,532.9 L244.5,532.7 L245.0,532.4 L245.5,532.4 L246.0,532.3 L246.5,532.3 L247.0,532.2 L247.5,532.2 L248.0,532.1 L248.5,532.2 L249.0,532.0 L249.5,532.1 L250.0,531.9 L250.5,531.8 L251.0,531.8 L251.5,531.3 L252.0,531.2 L252.5,531.5 L253.0,531.3 L253.5,531.1 L254.0,531.5 L254.5,531.5 L255.0,531.3 L255.5,531.5 L256.0,531.4 L256.5,531.3 L257.0,531.3 L257.5,531.4 L258.0,531.2 L258.5,531.3 L259.0,531.3 L259.5,531.1 L260.0,531.2 L260.5,531.3 L261.0,531.2 L261.5,531.0 L262.0,531.3 L262.5,531.1 L263.0,531.2 L263.5,531.5 L264.0,531.6 L264.5,531.6 L265.0,531.8 L265.5,531.9 L266.0,531.9 L266.5,531.8 L267.0,532.1 L267.5,532.3 L268.0,532.5 L268.5,532.4 L269.0,532.9 L269.5,533.2 L270.0,533.4 L270.5,533.7 L271.0,534.2 L271.5,534.3 L272.0,534.4 L272.5,534.5 L273.0,534.7 L273.5,534.5 L274.0,534.8 L274.5,535.1 L275.0,535.6 L275.5,535.7 L276.0,536.2 L276.5,536.3 L277.0,536.3 L277.5,536.4 L278.0,536.7 L278.5,537.0 L279.0,537.1 L279.5,537.2 L280.0,537.3 L280.5,537.6 L281.0,537.5 L281.5,537.5 L282.0,537.5 L282.5,537.3 L283.0,537.3 L283.5,537.3 L284.0,537.5 L284.5,537.5 L285.0,537.8 L285.5,537.9 L286.0,538.0 L286.5,538.2 L287.0,538.4 L287.5,538.4 L288.0,538.4 L288.5,538.6 L289.0,538.5 L289.5,538.4 L290.0,538.6 L290.5,538.5 L291.0,538.8 L291.5,539.0 L292.0,539.2 L292.5,539.5 L293.0,539.8 L293.5,539.5 L294.0,539.4 L294.5,539.3 L295.0,539.3 L295.5,539.1 L296.0,539.3 L296.5,539.3 L297.0,539.1 L297.5,539.1 L298.0,539.2 L298.5,539.1 L299.0,539.0 L299.5,539.2 L300.0,538.9 L300.5,539.1 L301.0,538.9 L301.5,539.0 L302.0,538.8 L302.5,538.8 L303.0,538.6 L303.5,538.7 L304.0,538.8 L304.5,538.8 L305.0,538.8 L305.5,538.9 L306.0,538.8 L306.5,538.9 L307.0,538.8 L307.5,538.7 L308.0,538.8 L308.5,538.9 L309.0,538.8 L309.5,539.0 L310.0,539.0 L310.5,538.8 L311.0,538.8 L311.5,538.8 L312.0,538.6" stroke="#202020" stroke-width="1.4" fill="none"/>
<path d="M28.0,520.9 L28.5,519.8 L29.0,518.9 L29.5,518.2 L30.0,517.2 L30.5,516.3 L31.0,515.6 L31.5,514.6 L32.0,513.7 L32.5,513.0 L33.0,512.1 L33.5,511.1 L34.0,510.3 L34.5,509.4 L35.0,508.4 L35.5,507.5 L36.0,506.6 L36.5,505.7 L37.0,504.8 L37.5,503.9 L38.0,503.0 L38.5,502.1 L39.0,501.0 L39.5,500.0 L40.0,499.1 L40.5,498.0 L41.0,496.8 L41.5,495.9 L42.0,494.8 L42.5,493.6 L43.0,492.6 L43.5,491.6 L44.0,490.6 L44.5,489.7 L45.0,488.5 L45.5,487.4 L46.0,486.4 L46.5,485.1 L47.0,484.0 L47.5,483.3 L48.0,482.5 L48.5,481.6 L49.0,480.5 L49.5,479.4 L50.0,478.1 L50.5,477.1 L51.0,476.0 L51.5,475.2 L52.0,474.3 L52.5,473.5 L53.0,472.7 L53.5,471.8 L54.0,471.0 L54.5,469.9 L55.0,469.0 L55.5,467.9 L56.0,466.6 L56.5,465.6 L57.0,464.8 L57.5,463.7 L58.0,462.8 L58.5,461.9 L59.0,460.9 L59.5,460.1 L60.0,459.0 L60.5,458.1 L61.0,457.1 L61.5,456.0 L62.0,455.0 L62.5,454.1 L63.0,452.7 L63.5,451.7 L64.0,450.8 L64.5,449.6 L65.0,448.5 L65.5,447.6 L66.0,446.6 L66.5,445.4 L67.0,444.2 L67.5,443.2 L68.0,442.1 L68.5,440.7 L69.0,439.6 L69.5,438.6 L70.0,437.3 L70.5,436.1 L71.0,434.9 L71.5,433.7 L72.0,432.5 L72.5,431.4 L73.0,429.8 L73.5,428.7 L74.0,427.3 L74.5,426.1 L75.0,425.0 L75.5,424.3 L76.0,423.5 L76.5,422.6 L77.0,421.6 L77.5,420.7 L78.0,420.0 L78.5,419.3 L79.0,418.9 L79.5,418.4 L80.0,418.2 L80.5,417.8 L81.0,417.6 L81.5,417.6 L82.0,417.8 L82.5,418.3 L83.0,419.1 L83.5,420.0 L84.0,421.2 L84.5,422.7 L85.0,424.2 L85.5,425.9 L86.0,427.5 L86.5,429.5 L87.0,431.6 L87.5,433.5 L88.0,435.6 L88.5,437.9 L89.0,440.0 L89.5,442.1 L90.0,444.3 L90.5,446.7 L91.0,449.1 L91.5,451.2 L92.0,453.4 L92.5,455.7 L93.0,457.7 L93.5,459.9 L94.0,462.2 L94.5,464.5 L95.0,466.5 L95.5,468.5 L96.0,470.3 L96.5,472.1 L97.0,473.6 L97.5,475.1 L98.0,476.5 L98.5,478.0 L99.0,479.1 L99.5,480.0 L100.0,481.1 L100.5,482.1 L101.0,483.0 L101.5,484.1 L102.0,485.5 L102.5,486.5 L103.0,487.4 L103.5,488.4 L104.0,489.3 L104.5,490.1 L105.0,490.8 L105.5,491.5 L106.0,491.6 L106.5,491.5 L107.0,491.5 L107.5,491.6 L108.0,491.8 L108.5,492.3 L109.0,493.0 L109.5,493.9 L110.0,494.9 L110.5,496.3 L111.0,497.5 L111.5,498.8 L112.0,499.8 L112.5,500.9 L113.0,501.5 L113.5,502.0 L114.0,502.6 L114.5,503.1 L115.0,503.7 L115.5,504.2 L116.0,504.7 L116.5,505.0 L117.0,505.4 L117.5,505.7 L118.0,506.1 L118.5,506.8 L119.0,507.1 L119.5,507.5 L120.0,507.8 L120.5,508.0 L121.0,508.1 L121.5,508.4 L122.0,508.7 L122.5,509.0 L123.0,509.2 L123.5,509.4 L124.0,509.8 L124.5,510.3 L125.0,510.5 L125.5,511.0 L126.0,511.5 L126.5,511.8 L127.0,512.0 L127.5,512.5 L128.0,512.8 L128.5,512.7 L129.0,512.8 L129.5,512.8 L130.0,512.6 L130.5,512.5 L131.0,512.6 L131.5,512.4 L132.0,512.5 L132.5,512.5 L133.0,512.6 L133.5,512.6 L134.0,512.9 L134.5,512.8 L135.0,513.1 L135.5,513.5 L136.0,513.8 L136.5,513.8 L137.0,514.1 L137.5,514.3 L138.0,514.5 L138.5,515.0 L139.0,515.7 L139.5,516.4 L140.0,516.9 L140.5,517.5 L141.0,517.7 L141.5,518.2 L142.0,518.5 L142.5,518.9 L143.0,519.3 L143.5,520.0 L144.0,520.3 L144.5,520.9 L145.0,521.7 L145.5,522.4 L146.0,523.0 L146.5,523.6 L147.0,524.2 L147.5,524.8 L148.0,525.1 L148.5,525.3 L149.0,525.4 L149.5,525.5 L150.0,525.7 L150.5,525.9 L151.0,525.9 L151.5,526.2 L152.0,526.2 L152.5,526.0 L153.0,525.7 L153.5,525.3 L154.0,525.0 L154.5,524.6 L155.0,524.1 L155.5,523.7 L156.0,523.4 L156.5,523.0 L157.0,522.5 L157.5,522.0 L158.0,521.6 L158.5,520.8 L159.0,520.0 L159.5,519.3 L160.0,518.0 L160.5,517.0 L161.0,516.2 L161.5,515.1 L162.0,514.4 L162.5,513.9 L163.0,513.3 L163.5,512.4 L164.0,511.6 L164.5,510.6 L165.0,509.5 L165.5,508.5 L166.0,507.7 L166.5,506.8 L167.0,505.7 L167.5,504.7 L168.0,503.3 L168.5,502.2 L169.0,501.0 L169.5,500.1 L170.0,499.2 L170.5,498.6 L171.0,498.0 L171.5,497.5 L172.0,496.8 L172.5,496.4 L173.0,496.1 L173.5,495.5 L174.0,495.1 L174.5,494.4 L175.0,493.9 L175.5,493.5 L176.0,493.3 L176.5,492.8 L177.0,492.6 L177.5,492.2 L178.0,491.8 L178.5,491.4 L179.0,491.4 L179.5,491.2 L180.0,491.0 L180.5,490.9 L181.0,491.0 L181.5,490.7 L182.0,490.6 L182.5,490.6 L183.0,490.6 L183.5,490.4 L184.0,490.4 L184.5,490.5 L185.0,490.5 L185.5,490.5 L186.0,490.6 L186.5,490.5 L187.0,490.2 L187.5,490.4 L188.0,490.4 L188.5,490.6 L189.0,491.0 L189.5,491.1 L190.0,491.3 L190.5,491.3 L191.0,491.3 L191.5,491.2 L192.0,491.5 L192.5,491.8 L193.0,492.2 L193.5,492.6 L194.0,493.0 L194.5,493.4 L195.0,493.6 L195.5,494.1 L196.0,494.5 L196.5,495.4 L197.0,496.3 L197.5,497.1 L198.0,497.8 L198.5,498.7 L199.0,499.3 L199.5,500.1 L200.0,501.1 L200.5,502.0 L201.0,502.7 L201.5,503.5 L202.0,504.4 L202.5,504.9 L203.0,505.8 L203.5,506.7 L204.0,507.3 L204.5,508.0 L205.0,508.7 L205.5,509.4 L206.0,510.3 L206.5,511.2 L207.0,512.0 L207.5,512.9 L208.0,513.7 L208.5,514.1 L209.0,514.7 L209.5,515.3 L210.0,515.9 L210.5,516.7 L211.0,517.3 L211.5,518.0 L212.0,518.7 L212.5,519.5 L213.0,520.0 L213.5,520.8 L214.0,521.4 L214.5,522.0 L215.0,522.5 L215.5,523.0 L216.0,523.6 L216.5,524.0 L217.0,524.5 L217.5,525.2 L218.0,525.6 L218.5,525.7 L219.0,525.9 L219.5,526.0 L220.0,526.1 L220.5,526.3 L221.0,526.4 L221.5,526.5 L222.0,526.6 L222.5,526.6 L223.0,527.0 L223.5,527.2 L224.0,527.4 L224.5,527.5 L225.0,527.7 L225.5,527.8 L226.0,527.9 L226.5,527.9 L227.0,527.9 L227.5,527.6 L228.0,527.4 L228.5,527.3 L229.0,527.3 L229.5,527.4 L230.0,527.3 L230.5,527.3 L231.0,527.2 L231.5,527.3 L232.0,527.2 L232.5,527.2 L233.0,527.1 L233.5,527.0 L234.0,526.9 L234.5,526.7 L235.0,526.6 L235.5,526.3 L236.0,526.0 L236.5,525.5 L237.0,525.5 L237.5,525.2 L238.0,525.2 L238.5,525.1 L239.0,525.1 L239.5,524.9 L240.0,525.0 L240.5,524.7 L241.0,524.7 L241.5,524.6 L242.0,524.4 L242.5,524.0 L243.0,524.0 L243.5,523.8 L244.0,523.5 L244.5,523.4 L245.0,523.4 L245.5,523.2 L246.0,523.2 L246.5,523.2 L247.0,523.2 L247.5,522.9 L248.0,522.7 L248.5,522.3 L249.0,522.1 L249.5,521.9 L250.0,522.1 L250.5,522.2 L251.0,522.1 L251.5,522.0 L252.0,522.1 L252.5,521.9 L253.0,521.8 L253.5,521.7 L254.0,521.5 L254.5,521.3 L255.0,521.2 L255.5,521.2 L256.0,521.3 L256.5,521.3 L257.0,521.6 L257.5,521.7 L258.0,521.5 L258.5,521.7 L259.0,522.0 L259.5,521.9 L260.0,521.9 L260.5,522.1 L261.0,521.7 L261.5,521.7 L262.0,521.7 L262.5,521.8 L263.0,521.7 L263.5,522.0 L264.0,522.1 L264.5,521.8 L265.0,522.0 L265.5,522.3 L266.0,522.4 L266.5,522.4 L267.0,522.9 L267.5,522.9 L268.0,522.9 L268.5,523.1 L269.0,523.4 L269.5,523.6 L270.0,524.0 L270.5,524.4 L271.0,524.7 L271.5,525.1 L272.0,525.5 L272.5,525.5 L273.0,525.6 L273.5,525.9 L274.0,526.0 L274.5,526.0 L275.0,526.5 L275.5,526.8 L276.0,527.3 L276.5,527.4 L277.0,528.0 L277.5,528.1 L278.0,528.4 L278.5,528.4 L279.0,528.7 L279.5,528.5 L280.0,528.5 L280.5,528.5 L281.0,528.5 L281.5,528.5 L282.0,528.7 L282.5,528.9 L283.0,529.0 L283.5,528.9 L284.0,529.1 L284.5,529.0 L285.0,529.0 L285.5,529.1 L286.0,529.3 L286.5,529.3 L287.0,529.4 L287.5,529.3 L288.0,529.4 L288.5,529.4 L289.0,529.5 L289.5,529.6 L290.0,529.7 L290.5,529.8 L291.0,529.9 L291.5,529.9 L292.0,530.0 L292.5,530.1 L293.0,530.0 L293.5,530.1 L294.0,529.9 L294.5,529.8 L295.0,529.9 L295.5,529.8 L296.0,529.7 L296.5,529.8 L297.0,529.9 L297.5,529.7 L298.0,529.7 L298.5,529.7 L299.0,529.6 L299.5,529.6 L300.0,529.6 L300.5,529.6 L301.0,529.7 L301.5,529.8 L302.0,529.7 L302.5,529.8 L303.0,529.8 L303.5,529.5 L304.0,529.5 L304.5,529.6 L305.0,529.5 L305.5,529.5 L306.0,529.8 L306.5,529.6 L307.0,529.4 L307.5,529.4 L308.0,529.4 L308.5,529.3 L309.0,529.6 L309.5,529.5 L310.0,529.4 L310.5,529.2 L311.0,529.2 L311.5,529.0 L312.0,529.1" stroke="#1f7a2e" stroke-width="1.4" fill="none"/>
<path d="M28.0,505.9 L28.5,504.8 L29.0,504.0 L29.5,503.1 L30.0,502.4 L30.5,501.6 L31.0,500.9 L31.5,500.1 L32.0,499.5 L32.5,498.8 L33.0,498.0 L33.5,497.4 L34.0,496.6 L34.5,495.7 L35.0,494.8 L35.5,493.8 L36.0,492.8 L36.5,491.9 L37.0,491.1 L37.5,490.0 L38.0,489.0 L38.5,488.1 L39.0,487.0 L39.5,485.9 L40.0,484.7 L40.5,483.8 L41.0,482.7 L41.5,481.6 L42.0,480.6 L42.5,479.7 L43.0,478.5 L43.5,477.4 L44.0,476.3 L44.5,475.3 L45.0,474.0 L45.5,472.9 L46.0,471.8 L46.5,470.6 L47.0,469.4 L47.5,468.2 L48.0,467.3 L48.5,466.3 L49.0,465.3 L49.5,464.3 L50.0,463.3 L50.5,462.1 L51.0,461.0 L51.5,460.1 L52.0,459.1 L52.5,458.1 L53.0,457.1 L53.5,456.2 L54.0,455.2 L54.5,454.4 L55.0,453.7 L55.5,452.8 L56.0,452.0 L56.5,450.9 L57.0,449.6 L57.5,449.0 L58.0,448.1 L58.5,447.1 L59.0,446.4 L59.5,445.6 L60.0,444.5 L60.5,443.5 L61.0,442.7 L61.5,441.9 L62.0,441.1 L62.5,440.1 L63.0,439.1 L63.5,438.0 L64.0,436.9 L64.5,436.0 L65.0,434.9 L65.5,434.1 L66.0,433.1 L66.5,432.3 L67.0,431.2 L67.5,430.2 L68.0,429.1 L68.5,428.2 L69.0,427.1 L69.5,425.9 L70.0,425.0 L70.5,423.9 L71.0,422.6 L71.5,421.3 L72.0,420.3 L72.5,419.0 L73.0,417.8 L73.5,416.6 L74.0,415.5 L74.5,414.4 L75.0,413.4 L75.5,412.6 L76.0,411.8 L76.5,411.0 L77.0,410.4 L77.5,409.8 L78.0,409.0 L78.5,408.7 L79.0,408.4 L79.5,408.0 L80.0,407.8 L80.5,407.8 L81.0,407.7 L81.5,407.7 L82.0,408.0 L82.5,408.5 L83.0,409.1 L83.5,410.2 L84.0,411.4 L84.5,412.6 L85.0,413.8 L85.5,415.3 L86.0,416.9 L86.5,418.6 L87.0,420.4 L87.5,422.6 L88.0,424.7 L88.5,426.8 L89.0,429.1 L89.5,431.3 L90.0,433.5 L90.5,435.7 L91.0,437.8 L91.5,440.0 L92.0,442.2 L92.5,444.2 L93.0,446.3 L93.5,448.5 L94.0,450.6 L94.5,452.8 L95.0,455.1 L95.5,457.2 L96.0,459.2 L96.5,460.8 L97.0,462.4 L97.5,463.8 L98.0,465.2 L98.5,466.3 L99.0,467.4 L99.5,468.4 L100.0,469.2 L100.5,470.3 L101.0,471.3 L101.5,472.6 L102.0,473.6 L102.5,474.7 L103.0,475.4 L103.5,476.4 L104.0,477.2 L104.5,477.9 L105.0,478.5 L105.5,479.1 L106.0,479.4 L106.5,479.6 L107.0,479.8 L107.5,480.1 L108.0,480.5 L108.5,481.1 L109.0,481.9 L109.5,483.1 L110.0,484.2 L110.5,485.5 L111.0,486.4 L111.5,487.4 L112.0,488.5 L112.5,489.4 L113.0,490.1 L113.5,491.2 L114.0,491.8 L114.5,492.3 L115.0,493.0 L115.5,493.5 L116.0,494.1 L116.5,494.8 L117.0,495.2 L117.5,495.4 L118.0,495.8 L118.5,495.9 L119.0,495.9 L119.5,496.1 L120.0,496.4 L120.5,496.7 L121.0,497.1 L121.5,497.6 L122.0,497.9 L122.5,498.2 L123.0,498.6 L123.5,498.9 L124.0,499.2 L124.5,499.5 L125.0,499.6 L125.5,500.1 L126.0,500.4 L126.5,500.7 L127.0,501.1 L127.5,501.6 L128.0,501.8 L128.5,502.1 L129.0,502.3 L129.5,502.4 L130.0,502.3 L130.5,502.4 L131.0,502.3 L131.5,502.3 L132.0,502.3 L132.5,502.3 L133.0,502.4 L133.5,502.3 L134.0,502.4 L134.5,502.4 L135.0,502.7 L135.5,503.0 L136.0,503.4 L136.5,503.7 L137.0,504.1 L137.5,504.6 L138.0,505.1 L138.5,505.6 L139.0,506.0 L139.5,506.5 L140.0,506.8 L140.5,507.2 L141.0,507.7 L141.5,508.3 L142.0,508.7 L142.5,509.3 L143.0,509.8 L143.5,510.3 L144.0,510.8 L144.5,511.2 L145.0,511.6 L145.5,512.1 L146.0,512.5 L146.5,513.0 L147.0,513.5 L147.5,514.0 L148.0,514.5 L148.5,514.7 L149.0,515.0 L149.5,515.2 L150.0,515.1 L150.5,515.0 L151.0,515.1 L151.5,514.9 L152.0,514.7 L152.5,514.7 L153.0,514.3 L153.5,514.3 L154.0,514.1 L154.5,513.8 L155.0,513.4 L155.5,513.2 L156.0,512.6 L156.5,512.0 L157.0,511.5 L157.5,511.0 L158.0,510.5 L158.5,509.8 L159.0,509.3 L159.5,508.4 L160.0,507.8 L160.5,506.9 L161.0,506.2 L161.5,505.4 L162.0,504.7 L162.5,503.9 L163.0,503.2 L163.5,502.5 L164.0,501.8 L164.5,501.2 L165.0,500.5 L165.5,499.7 L166.0,498.8 L166.5,497.7 L167.0,496.7 L167.5,495.4 L168.0,494.4 L168.5,493.4 L169.0,492.4 L169.5,491.5 L170.0,490.7 L170.5,489.8 L171.0,489.1 L171.5,488.4 L172.0,487.9 L172.5,487.5 L173.0,487.1 L173.5,486.6 L174.0,486.2 L174.5,485.6 L175.0,485.1 L175.5,484.8 L176.0,484.5 L176.5,484.2 L177.0,484.0 L177.5,484.0 L178.0,483.7 L178.5,483.7 L179.0,483.5 L179.5,483.5 L180.0,483.1 L180.5,482.8 L181.0,482.6 L181.5,482.4 L182.0,482.2 L182.5,482.2 L183.0,482.2 L183.5,482.0 L184.0,481.8 L184.5,481.6 L185.0,481.4 L185.5,481.3 L186.0,481.3 L186.5,481.4 L187.0,481.4 L187.5,481.4 L188.0,481.5 L188.5,481.3 L189.0,481.3 L189.5,481.4 L190.0,481.7 L190.5,481.7 L191.0,481.9 L191.5,482.1 L192.0,482.2 L192.5,482.2 L193.0,482.5 L193.5,482.9 L194.0,483.4 L194.5,483.9 L195.0,484.4 L195.5,484.8 L196.0,485.4 L196.5,486.1 L197.0,486.6 L197.5,487.5 L198.0,488.3 L198.5,489.0 L199.0,489.8 L199.5,490.8 L200.0,491.6 L200.5,492.5 L201.0,493.4 L201.5,494.2 L202.0,495.1 L202.5,495.9 L203.0,496.7 L203.5,497.1 L204.0,498.0 L204.5,498.8 L205.0,499.7 L205.5,500.4 L206.0,501.2 L206.5,501.8 L207.0,502.3 L207.5,503.2 L208.0,504.0 L208.5,504.8 L209.0,505.7 L209.5,506.4 L210.0,506.9 L210.5,507.4 L211.0,508.0 L211.5,508.7 L212.0,509.3 L212.5,509.8 L213.0,510.6 L213.5,511.3 L214.0,511.7 L214.5,512.2 L215.0,512.8 L215.5,513.1 L216.0,513.8 L216.5,514.4 L217.0,514.7 L217.5,515.1 L218.0,515.5 L218.5,515.6 L219.0,515.9 L219.5,516.1 L220.0,516.2 L220.5,516.4 L221.0,516.4 L221.5,516.5 L222.0,516.6 L222.5,516.8 L223.0,516.8 L223.5,517.1 L224.0,517.4 L224.5,517.5 L225.0,517.5 L225.5,517.5 L226.0,517.4 L226.5,517.3 L227.0,517.5 L227.5,517.7 L228.0,517.9 L228.5,517.7 L229.0,517.6 L229.5,517.4 L230.0,517.1 L230.5,516.9 L231.0,517.0 L231.5,516.9 L232.0,516.8 L232.5,516.9 L233.0,516.8 L233.5,516.8 L234.0,516.6 L234.5,516.6 L235.0,516.4 L235.5,516.3 L236.0,515.9 L236.5,515.8 L237.0,515.4 L237.5,515.0 L238.0,514.7 L238.5,514.7 L239.0,514.4 L239.5,514.3 L240.0,514.3 L240.5,514.1 L241.0,513.9 L241.5,513.9 L242.0,513.8 L242.5,513.6 L243.0,513.4 L243.5,513.2 L244.0,512.9 L244.5,512.8 L245.0,512.4 L245.5,512.3 L246.0,512.1 L246.5,512.0 L247.0,511.7 L247.5,511.7 L248.0,511.6 L248.5,511.7 L249.0,511.4 L249.5,511.4 L250.0,511.0 L250.5,510.8 L251.0,510.5 L251.5,510.5 L252.0,510.4 L252.5,510.5 L253.0,510.3 L253.5,510.2 L254.0,510.0 L254.5,510.0 L255.0,509.8 L255.5,509.8 L256.0,509.9 L256.5,510.2 L257.0,510.3 L257.5,510.5 L258.0,510.5 L258.5,510.6 L259.0,510.3 L259.5,510.3 L260.0,510.0 L260.5,509.9 L261.0,509.9 L261.5,509.8 L262.0,509.8 L262.5,510.0 L263.0,510.1 L263.5,510.1 L264.0,510.4 L264.5,510.4 L265.0,510.6 L265.5,510.6 L266.0,511.0 L266.5,511.2 L267.0,511.6 L267.5,511.8 L268.0,512.4 L268.5,512.7 L269.0,513.0 L269.5,513.2 L270.0,513.6 L270.5,513.7 L271.0,513.9 L271.5,514.1 L272.0,514.4 L272.5,514.8 L273.0,515.2 L273.5,515.6 L274.0,516.0 L274.5,516.3 L275.0,516.4 L275.5,516.5 L276.0,516.6 L276.5,516.8 L277.0,517.0 L277.5,517.3 L278.0,517.7 L278.5,518.1 L279.0,518.4 L279.5,518.5 L280.0,518.5 L280.5,518.6 L281.0,518.6 L281.5,518.5 L282.0,518.5 L282.5,518.6 L283.0,518.7 L283.5,518.8 L284.0,519.0 L284.5,519.0 L285.0,519.0 L285.5,519.0 L286.0,519.1 L286.5,519.2 L287.0,519.3 L287.5,519.4 L288.0,519.2 L288.5,519.1 L289.0,518.9 L289.5,519.1 L290.0,519.1 L290.5,519.0 L291.0,519.1 L291.5,519.1 L292.0,519.2 L292.5,519.1 L293.0,519.2 L293.5,519.2 L294.0,519.2 L294.5,519.1 L295.0,519.1 L295.5,519.3 L296.0,519.3 L296.5,519.3 L297.0,519.1 L297.5,519.3 L298.0,519.2 L298.5,519.2 L299.0,519.0 L299.5,519.1 L300.0,518.8 L300.5,518.8 L301.0,518.8 L301.5,518.8 L302.0,518.9 L302.5,518.9 L303.0,519.0 L303.5,519.0 L304.0,519.0 L304.5,518.9 L305.0,518.9 L305.5,518.9 L306.0,518.9 L306.5,518.8 L307.0,518.8 L307.5,518.9 L308.0,518.8 L308.5,518.7 L309.0,518.8 L309.5,518.8 L310.0,518.8 L310.5,519.1 L311.0,519.0 L311.5,519.0 L312.0,518.9" stroke="#2424e0" stroke-width="1.4" fill="none"/>
<path d="M28.0,497.4 L28.5,496.4 L29.0,495.6 L29.5,494.7 L30.0,493.9 L30.5,493.2 L31.0,492.4 L31.5,491.6 L32.0,490.9 L32.5,490.0 L33.0,489.1 L33.5,488.3 L34.0,487.4 L34.5,486.4 L35.0,485.5 L35.5,484.7 L36.0,483.8 L36.5,482.8 L37.0,481.8 L37.5,480.8 L38.0,479.7 L38.5,478.6 L39.0,477.6 L39.5,476.5 L40.0,475.4 L40.5,474.3 L41.0,473.1 L41.5,472.0 L42.0,470.9 L42.5,469.7 L43.0,468.5 L43.5,467.2 L44.0,466.0 L44.5,464.7 L45.0,463.5 L45.5,462.2 L46.0,461.1 L46.5,460.1 L47.0,458.9 L47.5,457.7 L48.0,456.7 L48.5,455.4 L49.0,454.1 L49.5,452.8 L50.0,451.7 L50.5,450.5 L51.0,449.5 L51.5,448.4 L52.0,447.3 L52.5,446.3 L53.0,445.2 L53.5,444.3 L54.0,443.2 L54.5,442.3 L55.0,441.4 L55.5,440.6 L56.0,439.5 L56.5,438.5 L57.0,437.6 L57.5,436.6 L58.0,435.4 L58.5,434.6 L59.0,433.7 L59.5,432.8 L60.0,432.0 L60.5,431.3 L61.0,430.4 L61.5,429.6 L62.0,428.7 L62.5,427.8 L63.0,426.8 L63.5,426.0 L64.0,424.9 L64.5,424.0 L65.0,422.9 L65.5,421.9 L66.0,420.9 L66.5,419.9 L67.0,418.9 L67.5,418.0 L68.0,416.9 L68.5,415.8 L69.0,414.8 L69.5,413.6 L70.0,412.5 L70.5,411.3 L71.0,410.3 L71.5,409.0 L72.0,407.8 L72.5,406.6 L73.0,405.5 L73.5,404.3 L74.0,403.2 L74.5,402.3 L75.0,401.3 L75.5,400.4 L76.0,399.6 L76.5,398.9 L77.0,398.0 L77.5,397.4 L78.0,397.0 L78.5,396.5 L79.0,396.0 L79.5,395.8 L80.0,395.6 L80.5,395.5 L81.0,395.6 L81.5,395.9 L82.0,396.2 L82.5,396.7 L83.0,397.4 L83.5,398.2 L84.0,399.2 L84.5,400.4 L85.0,401.9 L85.5,403.1 L86.0,404.5 L86.5,406.2 L87.0,407.8 L87.5,409.6 L88.0,411.4 L88.5,413.4 L89.0,415.4 L89.5,417.5 L90.0,419.5 L90.5,421.6 L91.0,423.6 L91.5,425.5 L92.0,427.4 L92.5,429.5 L93.0,431.5 L93.5,433.7 L94.0,435.9 L94.5,438.1 L95.0,440.2 L95.5,442.2 L96.0,444.2 L96.5,445.9 L97.0,447.7 L97.5,449.0 L98.0,450.4 L98.5,451.4 L99.0,452.4 L99.5,453.0 L100.0,453.8 L100.5,454.5 L101.0,455.4 L101.5,456.2 L102.0,457.3 L102.5,458.3 L103.0,459.1 L103.5,460.2 L104.0,461.0 L104.5,461.8 L105.0,462.6 L105.5,463.3 L106.0,463.6 L106.5,463.9 L107.0,464.3 L107.5,464.5 L108.0,464.9 L108.5,465.7 L109.0,466.5 L109.5,467.3 L110.0,468.6 L110.5,469.8 L111.0,471.0 L111.5,472.4 L112.0,473.5 L112.5,474.5 L113.0,475.5 L113.5,476.3 L114.0,477.0 L114.5,477.7 L115.0,478.3 L115.5,478.8 L116.0,479.5 L116.5,480.1 L117.0,480.6 L117.5,481.0 L118.0,481.4 L118.5,481.7 L119.0,481.9 L119.5,482.3 L120.0,482.7 L120.5,483.2 L121.0,483.6 L121.5,484.0 L122.0,484.4 L122.5,484.7 L123.0,485.1 L123.5,485.6 L124.0,486.0 L124.5,486.6 L125.0,486.9 L125.5,487.1 L126.0,487.3 L126.5,487.7 L127.0,487.9 L127.5,488.5 L128.0,488.9 L128.5,489.3 L129.0,489.6 L129.5,489.8 L130.0,489.7 L130.5,490.0 L131.0,490.0 L131.5,490.1 L132.0,490.3 L132.5,490.5 L133.0,490.5 L133.5,490.7 L134.0,490.8 L134.5,490.8 L135.0,491.1 L135.5,491.6 L136.0,492.0 L136.5,492.5 L137.0,493.1 L137.5,493.6 L138.0,494.1 L138.5,494.6 L139.0,495.1 L139.5,495.6 L140.0,496.2 L140.5,496.6 L141.0,497.1 L141.5,497.8 L142.0,498.3 L142.5,498.7 L143.0,499.0 L143.5,499.7 L144.0,500.1 L144.5,500.6 L145.0,501.2 L145.5,501.9 L146.0,502.3 L146.5,502.7 L147.0,503.1 L147.5,503.3 L148.0,503.7 L148.5,503.8 L149.0,504.1 L149.5,504.3 L150.0,504.3 L150.5,504.1 L151.0,504.1 L151.5,503.9 L152.0,503.6 L152.5,503.5 L153.0,503.3 L153.5,502.9 L154.0,502.6 L154.5,502.2 L155.0,501.8 L155.5,501.3 L156.0,500.8 L156.5,500.4 L157.0,499.8 L157.5,499.3 L158.0,498.7 L158.5,498.2 L159.0,497.4 L159.5,496.8 L160.0,496.1 L160.5,495.5 L161.0,494.8 L161.5,494.2 L162.0,493.6 L162.5,492.8 L163.0,492.1 L163.5,491.3 L164.0,490.6 L164.5,489.9 L165.0,489.1 L165.5,488.2 L166.0,487.4 L166.5,486.6 L167.0,485.6 L167.5,484.7 L168.0,483.8 L168.5,483.0 L169.0,481.9 L169.5,480.9 L170.0,480.0 L170.5,479.1 L171.0,478.3 L171.5,477.7 L172.0,477.3 L172.5,476.6 L173.0,476.0 L173.5,475.7 L174.0,475.2 L174.5,474.7 L175.0,474.3 L175.5,474.2 L176.0,473.8 L176.5,473.5 L177.0,473.3 L177.5,473.3 L178.0,473.0 L178.5,472.8 L179.0,472.4 L179.5,472.0 L180.0,471.7 L180.5,471.4 L181.0,471.3 L181.5,471.2 L182.0,471.0 L182.5,470.8 L183.0,470.6 L183.5,470.2 L184.0,470.1 L184.5,469.8 L185.0,469.7 L185.5,469.6 L186.0,469.3 L186.5,469.1 L187.0,469.1 L187.5,468.9 L188.0,468.7 L188.5,468.8 L189.0,468.8 L189.5,468.9 L190.0,468.9 L190.5,469.1 L191.0,469.4 L191.5,469.5 L192.0,469.9 L192.5,470.4 L193.0,470.6 L193.5,470.8 L194.0,471.3 L194.5,471.7 L195.0,472.1 L195.5,472.7 L196.0,473.5 L196.5,474.2 L197.0,475.0 L197.5,476.0 L198.0,477.0 L198.5,477.8 L199.0,478.8 L199.5,479.7 L200.0,480.6 L200.5,481.6 L201.0,482.8 L201.5,483.7 L202.0,484.7 L202.5,485.5 L203.0,486.4 L203.5,486.9 L204.0,487.7 L204.5,488.5 L205.0,489.2 L205.5,490.0 L206.0,490.9 L206.5,491.7 L207.0,492.6 L207.5,493.5 L208.0,494.3 L208.5,494.9 L209.0,495.7 L209.5,496.2 L210.0,496.8 L210.5,497.4 L211.0,498.3 L211.5,499.0 L212.0,499.7 L212.5,500.3 L213.0,501.1 L213.5,501.4 L214.0,501.7 L214.5,502.1 L215.0,502.5 L215.5,502.7 L216.0,503.1 L216.5,503.7 L217.0,504.1 L217.5,504.5 L218.0,504.8 L218.5,505.2 L219.0,505.3 L219.5,505.4 L220.0,505.6 L220.5,505.6 L221.0,505.8 L221.5,506.0 L222.0,506.2 L222.5,506.3 L223.0,506.5 L223.5,506.4 L224.0,506.5 L224.5,506.6 L225.0,506.6 L225.5,506.8 L226.0,506.8 L226.5,506.7 L227.0,506.6 L227.5,506.5 L228.0,506.3 L228.5,506.2 L229.0,506.1 L229.5,506.1 L230.0,506.1 L230.5,505.8 L231.0,505.9 L231.5,505.8 L232.0,505.5 L232.5,505.3 L233.0,505.2 L233.5,504.9 L234.0,504.7 L234.5,504.6 L235.0,504.5 L235.5,504.1 L236.0,503.9 L236.5,503.7 L237.0,503.5 L237.5,503.4 L238.0,503.3 L238.5,503.3 L239.0,503.1 L239.5,502.9 L240.0,502.6 L240.5,502.5 L241.0,502.3 L241.5,502.1 L242.0,501.9 L242.5,501.8 L243.0,501.6 L243.5,501.5 L244.0,501.0 L244.5,500.8 L245.0,500.4 L245.5,500.2 L246.0,499.9 L246.5,499.8 L247.0,499.6 L247.5,499.6 L248.0,499.4 L248.5,499.2 L249.0,499.2 L249.5,499.0 L250.0,498.8 L250.5,498.5 L251.0,498.4 L251.5,498.4 L252.0,498.2 L252.5,498.1 L253.0,498.0 L253.5,497.7 L254.0,497.6 L254.5,497.5 L255.0,497.3 L255.5,497.2 L256.0,497.2 L256.5,496.8 L257.0,496.8 L257.5,496.6 L258.0,496.9 L258.5,496.7 L259.0,496.7 L259.5,496.5 L260.0,496.4 L260.5,496.3 L261.0,496.4 L261.5,496.3 L262.0,496.5 L262.5,496.7 L263.0,496.7 L263.5,496.9 L264.0,497.0 L264.5,497.3 L265.0,497.5 L265.5,497.5 L266.0,497.8 L266.5,498.2 L267.0,498.4 L267.5,498.5 L268.0,498.9 L268.5,499.0 L269.0,499.4 L269.5,499.7 L270.0,500.1 L270.5,500.4 L271.0,501.0 L271.5,501.1 L272.0,501.5 L272.5,501.8 L273.0,502.1 L273.5,502.4 L274.0,502.8 L274.5,503.1 L275.0,503.7 L275.5,504.1 L276.0,504.5 L276.5,504.9 L277.0,505.2 L277.5,505.5 L278.0,505.8 L278.5,505.9 L279.0,506.0 L279.5,506.0 L280.0,506.1 L280.5,506.2 L281.0,506.4 L281.5,506.6 L282.0,506.7 L282.5,506.8 L283.0,506.8 L283.5,507.1 L284.0,507.0 L284.5,506.9 L285.0,507.0 L285.5,507.1 L286.0,507.1 L286.5,507.3 L287.0,507.4 L287.5,507.4 L288.0,507.4 L288.5,507.4 L289.0,507.4 L289.5,507.5 L290.0,507.5 L290.5,507.4 L291.0,507.5 L291.5,507.5 L292.0,507.4 L292.5,507.4 L293.0,507.4 L293.5,507.3 L294.0,507.4 L294.5,507.5 L295.0,507.6 L295.5,507.8 L296.0,507.8 L296.5,507.9 L297.0,507.5 L297.5,507.6 L298.0,507.5 L298.5,507.4 L299.0,507.4 L299.5,507.8 L300.0,507.7 L300.5,507.6 L301.0,507.8 L301.5,507.6 L302.0,507.4 L302.5,507.5 L303.0,507.6 L303.5,507.7 L304.0,507.8 L304.5,508.1 L305.0,508.1 L305.5,507.9 L306.0,507.8 L306.5,507.8 L307.0,507.6 L307.5,507.5 L308.0,507.6 L308.5,507.5 L309.0,507.5 L309.5,507.5 L310.0,507.7 L310.5,507.6 L311.0,507.6 L311.5,507.6 L312.0,507.6" stroke="#e02424" stroke-width="1.4" fill="none"/>
</g>
<path d="M28.2,346H241 M28.2,346V580.3H311.6V493" fill="none" stroke="#3a33d8" stroke-width="2"/>
<rect x="240.8" y="345.8" width="71.2" height="147.8" fill="#fff" stroke="none"/>
<path d="M240.9,345.8V493.6 M312,345.8V493.6" stroke="#8a8a8a" stroke-width="1.5"/>
<path d="M240.2,345.8H312.7 M240.2,493.6H312.7" stroke="#505050" stroke-width="1.5"/>
<g stroke-width="1.4">
<path d="M247,359.3H274" stroke="#f06464"/>
<path d="M247,376.4H274" stroke="#3c3cf0"/>
<path d="M247,393.5H274" stroke="#3a8a4a"/>
<path d="M247,410.7H274" stroke="#666"/>
<path d="M247,427.9H274" stroke="#ff78bc"/>
<path d="M247,445.6H274" stroke="#66ecff"/>
<path d="M247,463.2H274" stroke="#44f044"/>
<path d="M247,480.3H274" stroke="#f89a66"/>
</g>
<g font-size="10.8">
<text x="277.4" y="366.8" fill="#e02828">700<tspan font-size="8" dy="-6">o</tspan><tspan dy="6">C</tspan></text>
<text x="277.4" y="383.9" fill="#2424d8">600<tspan font-size="8" dy="-6">o</tspan><tspan dy="6">C</tspan></text>
<text x="277.4" y="401.0" fill="#1f6a2a">500<tspan font-size="8" dy="-6">o</tspan><tspan dy="6">C</tspan></text>
<text x="277.4" y="418.2" fill="#111">400<tspan font-size="8" dy="-6">o</tspan><tspan dy="6">C</tspan></text>
<text x="277.4" y="435.4" fill="#e8288a">300<tspan font-size="8" dy="-6">o</tspan><tspan dy="6">C</tspan></text>
<text x="277.4" y="453.1" fill="#38e0ff">200<tspan font-size="8" dy="-6">o</tspan><tspan dy="6">C</tspan></text>
<text x="277.4" y="470.7" fill="#22e022">100<tspan font-size="8" dy="-6">o</tspan><tspan dy="6">C</tspan></text>
<text x="277.4" y="487.8" fill="#f07028">28<tspan font-size="8" dy="-6">o</tspan><tspan dy="6">C</tspan></text>
</g>
<text x="223.4" y="433.2" font-size="14" font-weight="bold" fill="#111" text-anchor="middle">T</text>
<path d="M223.4,441.5V580" stroke="#a0a0a0" stroke-width="1"/>
<path d="M223.4,437.3L226.9,444.6L223.4,441.8L219.9,444.6Z" fill="#111"/>
<g font-size="10.4" fill="#222" stroke="#222" stroke-width="0.2" text-anchor="middle">
<text x="85" y="597.3">500</text><text x="179.7" y="597.3">1000</text><text x="274" y="597.3">1500</text>
</g>
<text x="105.6" y="618" font-size="14" font-weight="bold" fill="#111">Raman Shift (cm<tspan font-size="9" dx="1.3" dy="-8.6">-1</tspan><tspan dx="0.2" dy="8.6">)</tspan></text>
<text transform="translate(12.2,511.6) rotate(-90)" font-size="14.1" font-weight="bold" fill="#111">Intensity (a.u)</text>

<!-- ================= Panel (c) ================= -->
<text x="337.4" y="337.3" font-size="16.5" font-weight="bold" fill="#111">(c)</text>
<g stroke="#d9d9f5" stroke-width="1">
<path d="M427.2,345V580 M462.7,345V580 M498.1,345V580 M533.6,345V580 M569,345V580 M604.4,345V580 M639.9,345V580"/>
<path d="M392,540.9H675 M392,501.7H675 M392,462.6H675 M392,423.4H675 M392,384.3H675"/>
</g>
<rect x="391.8" y="345.2" width="283.5" height="234.8" fill="none" stroke="#3a33d8" stroke-width="2"/>
<g stroke="#e63a3a" stroke-width="0.9" fill="none">
<path d="M401.7,385.6V420.7 M427.4,392.8V412.3 M462.7,427.1V445.5 M498.1,486.5V501.5 M533.6,507.5V524.4 M569.1,511.5V526.7 M604.5,544.9V560.0 M640.1,521.5V535.4"/>
</g>
<g stroke="#e41c1c" stroke-width="1.5" fill="none">
<path d="M399.3,385.6H404.1 M399.3,420.7H404.1 M425.0,392.8H429.8 M425.0,412.3H429.8 M460.3,427.1H465.1 M460.3,445.5H465.1 M495.7,486.5H500.5 M495.7,501.5H500.5 M531.2,507.5H536.0 M531.2,524.4H536.0 M566.7,511.5H571.5 M566.7,526.7H571.5 M602.1,544.9H606.9 M602.1,560.0H606.9 M637.7,521.5H642.5 M637.7,535.4H642.5"/>
</g>
<g fill="#e01010">
<circle cx="401.7" cy="403.2" r="2.7"/><circle cx="427.4" cy="403" r="2.7"/><circle cx="462.7" cy="436.2" r="2.7"/><circle cx="498.1" cy="493.9" r="2.7"/><circle cx="533.6" cy="516.2" r="2.7"/><circle cx="569.1" cy="519.1" r="2.7"/><circle cx="604.5" cy="552.5" r="2.7"/><circle cx="640.1" cy="528.4" r="2.7"/>
</g>
<g font-size="11" fill="#222" stroke="#222" stroke-width="0.25" text-anchor="end" transform="translate(0.4,0)">
<text x="384.6" y="583.8">476</text><text x="384.6" y="544.7">478</text><text x="384.6" y="505.5">480</text><text x="384.6" y="466.4">482</text><text x="384.6" y="427.2">484</text><text x="384.6" y="388.1">486</text><text x="384.6" y="349">488</text>
</g>
<g font-size="11" fill="#222" stroke="#222" stroke-width="0.25" text-anchor="middle">
<text x="391.8" y="597.3">0</text><text x="427.2" y="597.3">100</text><text x="462.7" y="597.3">200</text><text x="498.1" y="597.3">300</text><text x="533.6" y="597.3">400</text><text x="569" y="597.3">500</text><text x="604.4" y="597.3">600</text><text x="639.9" y="597.3">700</text><text x="676.2" y="597.3">800</text>
</g>
<text x="517.5" y="619" font-size="14" font-weight="bold" fill="#111">T(<tspan font-size="9" dx="0.6" dy="-7.8">o</tspan><tspan dy="7.8">C)</tspan></text>
<text transform="translate(352.9,553.3) rotate(-90)" font-size="14.2" font-weight="bold" fill="#111">Main Band Position (cm<tspan font-size="9" dx="1.2" dy="-8.3">-1</tspan><tspan dx="0.2" dy="8.3">)</tspan></text>
</svg>
</body></html>
